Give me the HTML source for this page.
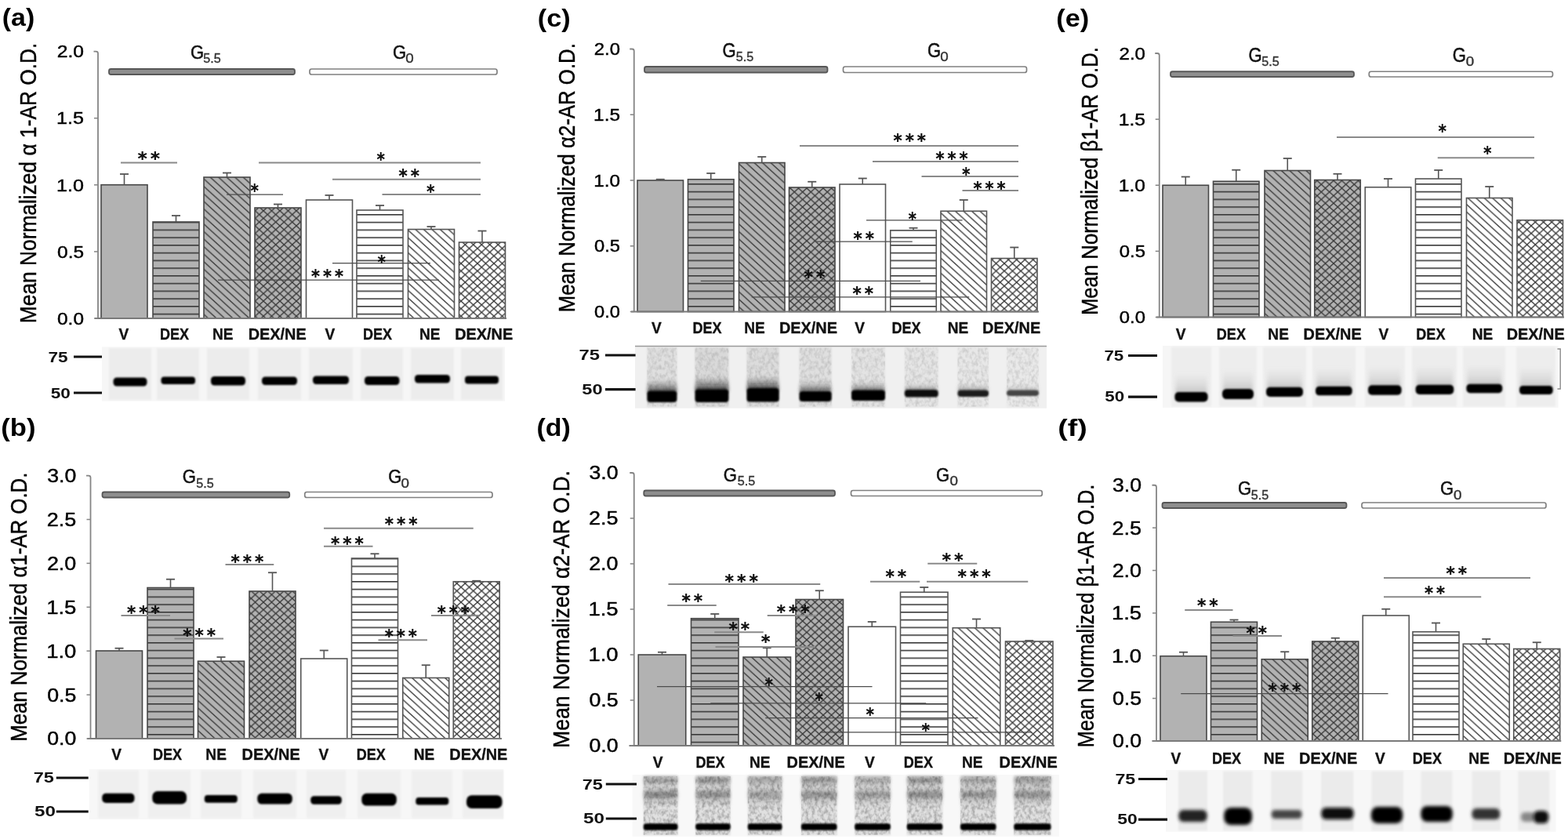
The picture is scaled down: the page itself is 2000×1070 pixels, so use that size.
<!DOCTYPE html>
<html><head><meta charset="utf-8"><style>
html,body{margin:0;padding:0;background:#fff;}
svg{display:block;}
</style></head><body>
<svg width="2000" height="1070" viewBox="0 0 2000 1070">
<defs><pattern id="hg" patternUnits="userSpaceOnUse" width="20" height="9.75"><rect width="20" height="9.75" fill="#b2b2b2"/><rect y="0" width="20" height="1.6" fill="#383838"/></pattern>
<pattern id="dg" patternUnits="userSpaceOnUse" width="10.5" height="9.6"><rect width="10.5" height="9.6" fill="#b2b2b2"/><line x1="-21" y1="-9.6" x2="10.5" y2="19.2" stroke="#383838" stroke-width="1.3"/><line x1="-10.5" y1="-9.6" x2="21" y2="19.2" stroke="#383838" stroke-width="1.3"/><line x1="0" y1="-9.6" x2="31.5" y2="19.2" stroke="#383838" stroke-width="1.3"/></pattern>
<pattern id="xg" patternUnits="userSpaceOnUse" width="10.5" height="9.6"><rect width="10.5" height="9.6" fill="#b2b2b2"/><line x1="-21" y1="-9.6" x2="10.5" y2="19.2" stroke="#383838" stroke-width="1.3"/><line x1="-10.5" y1="-9.6" x2="21" y2="19.2" stroke="#383838" stroke-width="1.3"/><line x1="0" y1="-9.6" x2="31.5" y2="19.2" stroke="#383838" stroke-width="1.3"/><line x1="10.5" y1="-9.6" x2="-21" y2="19.2" stroke="#383838" stroke-width="1.3"/><line x1="21" y1="-9.6" x2="-10.5" y2="19.2" stroke="#383838" stroke-width="1.3"/><line x1="31.5" y1="-9.6" x2="0" y2="19.2" stroke="#383838" stroke-width="1.3"/></pattern>
<pattern id="hw" patternUnits="userSpaceOnUse" width="20" height="9.75"><rect width="20" height="9.75" fill="#ffffff"/><rect y="0" width="20" height="1.6" fill="#383838"/></pattern>
<pattern id="dw" patternUnits="userSpaceOnUse" width="10.5" height="9.6"><rect width="10.5" height="9.6" fill="#ffffff"/><line x1="-21" y1="-9.6" x2="10.5" y2="19.2" stroke="#383838" stroke-width="1.3"/><line x1="-10.5" y1="-9.6" x2="21" y2="19.2" stroke="#383838" stroke-width="1.3"/><line x1="0" y1="-9.6" x2="31.5" y2="19.2" stroke="#383838" stroke-width="1.3"/></pattern>
<pattern id="xw" patternUnits="userSpaceOnUse" width="10.5" height="9.6"><rect width="10.5" height="9.6" fill="#ffffff"/><line x1="-21" y1="-9.6" x2="10.5" y2="19.2" stroke="#383838" stroke-width="1.3"/><line x1="-10.5" y1="-9.6" x2="21" y2="19.2" stroke="#383838" stroke-width="1.3"/><line x1="0" y1="-9.6" x2="31.5" y2="19.2" stroke="#383838" stroke-width="1.3"/><line x1="10.5" y1="-9.6" x2="-21" y2="19.2" stroke="#383838" stroke-width="1.3"/><line x1="21" y1="-9.6" x2="-10.5" y2="19.2" stroke="#383838" stroke-width="1.3"/><line x1="31.5" y1="-9.6" x2="0" y2="19.2" stroke="#383838" stroke-width="1.3"/></pattern>
<filter id="noise1" filterUnits="objectBoundingBox" x="0" y="0" width="1" height="1"><feTurbulence type="fractalNoise" baseFrequency="0.25 0.18" numOctaves="2" seed="7"/><feGaussianBlur stdDeviation="0.7"/><feColorMatrix type="matrix" values="0 0 0 0 0  0 0 0 0 0  0 0 0 0 0  1.1 0 0 0 -0.42"/><feComposite in2="SourceGraphic" operator="in"/></filter>
<filter id="blur1" x="-20%" y="-50%" width="140%" height="200%"><feGaussianBlur stdDeviation="1.1"/></filter>
<filter id="blur2" x="-20%" y="-50%" width="140%" height="200%"><feGaussianBlur stdDeviation="2.2"/></filter>
<filter id="blur3" x="-20%" y="-50%" width="140%" height="200%"><feGaussianBlur stdDeviation="3.5"/></filter>
<linearGradient id="sg1" x1="0" y1="0" x2="0" y2="1"><stop offset="0" stop-color="#222" stop-opacity="0"/><stop offset="0.55" stop-color="#222" stop-opacity="0.35"/><stop offset="1" stop-color="#222" stop-opacity="0.9"/></linearGradient>
<linearGradient id="sg2" x1="0" y1="0" x2="0" y2="1"><stop offset="0" stop-color="#111" stop-opacity="0"/><stop offset="0.55" stop-color="#111" stop-opacity="0.35"/><stop offset="1" stop-color="#111" stop-opacity="0.9"/></linearGradient>
<linearGradient id="sg3" x1="0" y1="0" x2="0" y2="1"><stop offset="0" stop-color="#111" stop-opacity="0"/><stop offset="0.55" stop-color="#111" stop-opacity="0.35"/><stop offset="1" stop-color="#111" stop-opacity="0.9"/></linearGradient>
<linearGradient id="sg4" x1="0" y1="0" x2="0" y2="1"><stop offset="0" stop-color="#333" stop-opacity="0"/><stop offset="0.55" stop-color="#333" stop-opacity="0.35"/><stop offset="1" stop-color="#333" stop-opacity="0.9"/></linearGradient>
<linearGradient id="sg5" x1="0" y1="0" x2="0" y2="1"><stop offset="0" stop-color="#444" stop-opacity="0"/><stop offset="0.55" stop-color="#444" stop-opacity="0.35"/><stop offset="1" stop-color="#444" stop-opacity="0.9"/></linearGradient>
<linearGradient id="sg6" x1="0" y1="0" x2="0" y2="1"><stop offset="0" stop-color="#777" stop-opacity="0"/><stop offset="0.55" stop-color="#777" stop-opacity="0.35"/><stop offset="1" stop-color="#777" stop-opacity="0.9"/></linearGradient>
<linearGradient id="sg7" x1="0" y1="0" x2="0" y2="1"><stop offset="0" stop-color="#888" stop-opacity="0"/><stop offset="0.55" stop-color="#888" stop-opacity="0.35"/><stop offset="1" stop-color="#888" stop-opacity="0.9"/></linearGradient>
<linearGradient id="sg8" x1="0" y1="0" x2="0" y2="1"><stop offset="0" stop-color="#aaa" stop-opacity="0"/><stop offset="0.55" stop-color="#aaa" stop-opacity="0.35"/><stop offset="1" stop-color="#aaa" stop-opacity="0.9"/></linearGradient>
<linearGradient id="sg9" x1="0" y1="0" x2="0" y2="1"><stop offset="0" stop-color="#bdbdbd" stop-opacity="0"/><stop offset="0.55" stop-color="#bdbdbd" stop-opacity="0.35"/><stop offset="1" stop-color="#bdbdbd" stop-opacity="0.9"/></linearGradient>
<linearGradient id="sg10" x1="0" y1="0" x2="0" y2="1"><stop offset="0" stop-color="#bdbdbd" stop-opacity="0"/><stop offset="0.55" stop-color="#bdbdbd" stop-opacity="0.35"/><stop offset="1" stop-color="#bdbdbd" stop-opacity="0.9"/></linearGradient>
<linearGradient id="sg11" x1="0" y1="0" x2="0" y2="1"><stop offset="0" stop-color="#bdbdbd" stop-opacity="0"/><stop offset="0.55" stop-color="#bdbdbd" stop-opacity="0.35"/><stop offset="1" stop-color="#bdbdbd" stop-opacity="0.9"/></linearGradient>
<linearGradient id="sg12" x1="0" y1="0" x2="0" y2="1"><stop offset="0" stop-color="#bdbdbd" stop-opacity="0"/><stop offset="0.55" stop-color="#bdbdbd" stop-opacity="0.35"/><stop offset="1" stop-color="#bdbdbd" stop-opacity="0.9"/></linearGradient>
<linearGradient id="sg13" x1="0" y1="0" x2="0" y2="1"><stop offset="0" stop-color="#bdbdbd" stop-opacity="0"/><stop offset="0.55" stop-color="#bdbdbd" stop-opacity="0.35"/><stop offset="1" stop-color="#bdbdbd" stop-opacity="0.9"/></linearGradient>
<linearGradient id="sg14" x1="0" y1="0" x2="0" y2="1"><stop offset="0" stop-color="#bdbdbd" stop-opacity="0"/><stop offset="0.55" stop-color="#bdbdbd" stop-opacity="0.35"/><stop offset="1" stop-color="#bdbdbd" stop-opacity="0.9"/></linearGradient>
<linearGradient id="sg15" x1="0" y1="0" x2="0" y2="1"><stop offset="0" stop-color="#bdbdbd" stop-opacity="0"/><stop offset="0.55" stop-color="#bdbdbd" stop-opacity="0.35"/><stop offset="1" stop-color="#bdbdbd" stop-opacity="0.9"/></linearGradient>
<linearGradient id="sg16" x1="0" y1="0" x2="0" y2="1"><stop offset="0" stop-color="#bdbdbd" stop-opacity="0"/><stop offset="0.55" stop-color="#bdbdbd" stop-opacity="0.35"/><stop offset="1" stop-color="#bdbdbd" stop-opacity="0.9"/></linearGradient></defs>
<rect width="2000" height="1070" fill="#fff"/>
<rect x="129" y="235.7" width="59" height="170.3" fill="#b2b2b2" stroke="#474747" stroke-width="1.6"/>
<line x1="158.5" y1="235.7" x2="158.5" y2="222" stroke="#555" stroke-width="1.6"/>
<line x1="153" y1="222" x2="164" y2="222" stroke="#555" stroke-width="1.8"/>
<rect x="195" y="283" width="59" height="123" fill="url(#hg)" stroke="#474747" stroke-width="1.6"/>
<line x1="224.5" y1="283" x2="224.5" y2="275" stroke="#555" stroke-width="1.6"/>
<line x1="219" y1="275" x2="230" y2="275" stroke="#555" stroke-width="1.8"/>
<rect x="260" y="226" width="59" height="180" fill="url(#dg)" stroke="#474747" stroke-width="1.6"/>
<line x1="289.5" y1="226" x2="289.5" y2="220.5" stroke="#555" stroke-width="1.6"/>
<line x1="284" y1="220.5" x2="295" y2="220.5" stroke="#555" stroke-width="1.8"/>
<rect x="325" y="265" width="59" height="141" fill="url(#xg)" stroke="#474747" stroke-width="1.6"/>
<line x1="354.5" y1="265" x2="354.5" y2="260.5" stroke="#555" stroke-width="1.6"/>
<line x1="349" y1="260.5" x2="360" y2="260.5" stroke="#555" stroke-width="1.8"/>
<rect x="390.5" y="255" width="59" height="151" fill="#ffffff" stroke="#555555" stroke-width="1.6"/>
<line x1="420" y1="255" x2="420" y2="249" stroke="#555" stroke-width="1.6"/>
<line x1="414.5" y1="249" x2="425.5" y2="249" stroke="#555" stroke-width="1.8"/>
<rect x="455" y="268" width="59" height="138" fill="url(#hw)" stroke="#555555" stroke-width="1.6"/>
<line x1="484.5" y1="268" x2="484.5" y2="262" stroke="#555" stroke-width="1.6"/>
<line x1="479" y1="262" x2="490" y2="262" stroke="#555" stroke-width="1.8"/>
<rect x="520.5" y="292.5" width="59" height="113.5" fill="url(#dw)" stroke="#555555" stroke-width="1.6"/>
<line x1="550" y1="292.5" x2="550" y2="289" stroke="#555" stroke-width="1.6"/>
<line x1="544.5" y1="289" x2="555.5" y2="289" stroke="#555" stroke-width="1.8"/>
<rect x="585.5" y="309" width="59" height="97" fill="url(#xw)" stroke="#555555" stroke-width="1.6"/>
<line x1="615" y1="309" x2="615" y2="294.5" stroke="#555" stroke-width="1.6"/>
<line x1="609.5" y1="294.5" x2="620.5" y2="294.5" stroke="#555" stroke-width="1.8"/>
<path d="M119.5 65.6 L122.5 65.6 Q125 65.6 125 68.1 L125 406" fill="none" stroke="#858585" stroke-width="1.8"/>
<line x1="121" y1="406" x2="646" y2="406" stroke="#7a7a7a" stroke-width="1.8"/>
<line x1="120" y1="406" x2="125" y2="406" stroke="#858585" stroke-width="1.5"/>
<text x="73.05" y="413.71" font-family='"Liberation Sans", Arial, sans-serif' font-size="22.4" font-weight="normal" fill="#000" textLength="33.91" lengthAdjust="spacingAndGlyphs" stroke="#000" stroke-width="0.45">0.0</text>
<line x1="120" y1="320.9" x2="125" y2="320.9" stroke="#858585" stroke-width="1.5"/>
<text x="73.05" y="328.61" font-family='"Liberation Sans", Arial, sans-serif' font-size="22.4" font-weight="normal" fill="#000" textLength="33.98" lengthAdjust="spacingAndGlyphs" stroke="#000" stroke-width="0.45">0.5</text>
<line x1="120" y1="235.8" x2="125" y2="235.8" stroke="#858585" stroke-width="1.5"/>
<text x="72.09" y="243.51" font-family='"Liberation Sans", Arial, sans-serif' font-size="22.4" font-weight="normal" fill="#000" textLength="34.89" lengthAdjust="spacingAndGlyphs" stroke="#000" stroke-width="0.45">1.0</text>
<line x1="120" y1="150.7" x2="125" y2="150.7" stroke="#858585" stroke-width="1.5"/>
<text x="72.08" y="158.3" font-family='"Liberation Sans", Arial, sans-serif' font-size="22.4" font-weight="normal" fill="#000" textLength="34.97" lengthAdjust="spacingAndGlyphs" stroke="#000" stroke-width="0.45">1.5</text>
<text x="72.76" y="73.31" font-family='"Liberation Sans", Arial, sans-serif' font-size="22.4" font-weight="normal" fill="#000" textLength="34.2" lengthAdjust="spacingAndGlyphs" stroke="#000" stroke-width="0.45">2.0</text>
<rect x="139" y="88" width="237" height="7" fill="#8e8e8e" stroke="#575757" stroke-width="1.8" rx="2.5"/>
<rect x="395" y="88" width="239" height="7" fill="#ffffff" stroke="#808080" stroke-width="1.7" rx="2.5"/>
<text x="242.89" y="75.16" font-family='"Liberation Sans", Arial, sans-serif' font-size="23.73" font-weight="normal" fill="#111" textLength="17.16" lengthAdjust="spacingAndGlyphs" stroke="#111" stroke-width="0.5">G</text>
<text x="259.15" y="80.4" font-family='"Liberation Sans", Arial, sans-serif' font-size="16.33" font-weight="normal" fill="#333" textLength="22.53" lengthAdjust="spacingAndGlyphs" stroke="#333" stroke-width="0.4">5.5</text>
<text x="500.89" y="75.16" font-family='"Liberation Sans", Arial, sans-serif' font-size="23.73" font-weight="normal" fill="#111" textLength="17.16" lengthAdjust="spacingAndGlyphs" stroke="#111" stroke-width="0.5">G</text>
<text x="517.26" y="80.4" font-family='"Liberation Sans", Arial, sans-serif' font-size="16.33" font-weight="normal" fill="#333" textLength="10.47" lengthAdjust="spacingAndGlyphs" stroke="#333" stroke-width="0.4">0</text>
<line x1="154" y1="207.5" x2="226" y2="207.5" stroke="#8a8a8a" stroke-width="2"/>
<text x="173.69" y="204.49" font-family='"DejaVu Sans", sans-serif' font-size="17.5" font-weight="bold" fill="#111" textLength="32.62" lengthAdjust="spacingAndGlyphs">∗∗</text>
<line x1="330" y1="207.5" x2="613" y2="207.5" stroke="#8a8a8a" stroke-width="2"/>
<text x="479.02" y="205.49" font-family='"DejaVu Sans", sans-serif' font-size="17.5" font-weight="bold" fill="#111" textLength="13.95" lengthAdjust="spacingAndGlyphs">∗</text>
<line x1="424" y1="228.7" x2="613" y2="228.7" stroke="#8a8a8a" stroke-width="2"/>
<text x="506.86" y="225.99" font-family='"DejaVu Sans", sans-serif' font-size="17.5" font-weight="bold" fill="#111" textLength="30.29" lengthAdjust="spacingAndGlyphs">∗∗</text>
<line x1="487.5" y1="248" x2="613" y2="248" stroke="#8a8a8a" stroke-width="2"/>
<text x="542.52" y="246.49" font-family='"DejaVu Sans", sans-serif' font-size="17.5" font-weight="bold" fill="#111" textLength="13.95" lengthAdjust="spacingAndGlyphs">∗</text>
<line x1="289" y1="248" x2="361" y2="248" stroke="#4d4d4d" stroke-width="1.25"/>
<text x="318.02" y="244.99" font-family='"DejaVu Sans", sans-serif' font-size="17.5" font-weight="bold" fill="#111" textLength="13.95" lengthAdjust="spacingAndGlyphs">∗</text>
<line x1="278" y1="357" x2="560" y2="357" stroke="#4d4d4d" stroke-width="1.25"/>
<text x="395.39" y="354.24" font-family='"DejaVu Sans", sans-serif' font-size="17.5" font-weight="bold" fill="#111" textLength="44.72" lengthAdjust="spacingAndGlyphs">∗∗∗</text>
<line x1="424" y1="335.5" x2="549" y2="335.5" stroke="#4d4d4d" stroke-width="1.25"/>
<text x="480.02" y="335.99" font-family='"DejaVu Sans", sans-serif' font-size="17.5" font-weight="bold" fill="#111" textLength="13.95" lengthAdjust="spacingAndGlyphs">∗</text>
<text x="151.62" y="432.74" font-family='"Liberation Sans", Arial, sans-serif' font-size="19.6" font-weight="bold" fill="#111" textLength="12.76" lengthAdjust="spacingAndGlyphs" stroke="#111" stroke-width="0.35">V</text>
<text x="203.92" y="432.74" font-family='"Liberation Sans", Arial, sans-serif' font-size="19.6" font-weight="bold" fill="#111" textLength="37.12" lengthAdjust="spacingAndGlyphs" stroke="#111" stroke-width="0.35">DEX</text>
<text x="270.97" y="432.74" font-family='"Liberation Sans", Arial, sans-serif' font-size="19.6" font-weight="bold" fill="#111" textLength="26.52" lengthAdjust="spacingAndGlyphs" stroke="#111" stroke-width="0.35">NE</text>
<text x="316.67" y="432.74" font-family='"Liberation Sans", Arial, sans-serif' font-size="19.6" font-weight="bold" fill="#111" textLength="74.11" lengthAdjust="spacingAndGlyphs" stroke="#111" stroke-width="0.35">DEX/NE</text>
<text x="414.62" y="432.74" font-family='"Liberation Sans", Arial, sans-serif' font-size="19.6" font-weight="bold" fill="#111" textLength="12.76" lengthAdjust="spacingAndGlyphs" stroke="#111" stroke-width="0.35">V</text>
<text x="462.92" y="432.74" font-family='"Liberation Sans", Arial, sans-serif' font-size="19.6" font-weight="bold" fill="#111" textLength="37.12" lengthAdjust="spacingAndGlyphs" stroke="#111" stroke-width="0.35">DEX</text>
<text x="534.97" y="432.74" font-family='"Liberation Sans", Arial, sans-serif' font-size="19.6" font-weight="bold" fill="#111" textLength="26.52" lengthAdjust="spacingAndGlyphs" stroke="#111" stroke-width="0.35">NE</text>
<text x="580.17" y="432.74" font-family='"Liberation Sans", Arial, sans-serif' font-size="19.6" font-weight="bold" fill="#111" textLength="74.11" lengthAdjust="spacingAndGlyphs" stroke="#111" stroke-width="0.35">DEX/NE</text>
<text x="2.81" y="33.34" font-family='"Liberation Sans", Arial, sans-serif' font-size="32.19" font-weight="bold" fill="#000" textLength="41.37" lengthAdjust="spacingAndGlyphs">(a)</text>
<text transform="translate(46.25,410) rotate(-90)" x="-2.16" y="0" font-family='"Liberation Sans", Arial, sans-serif' font-size="29" font-weight="normal" fill="#000" stroke="#000" stroke-width="0.45" textLength="357.56" lengthAdjust="spacingAndGlyphs">Mean Normalized α 1-AR O.D.</text>
<rect x="130" y="442.5" width="514" height="69" fill="#f6f6f6" stroke="none" stroke-width="0"/>
<rect x="139" y="444" width="54" height="66" fill="#ececec" filter="url(#blur1)"/>
<rect x="200" y="444" width="54" height="66" fill="#ececec" filter="url(#blur1)"/>
<rect x="264" y="444" width="54" height="66" fill="#ececec" filter="url(#blur1)"/>
<rect x="329" y="444" width="55" height="66" fill="#ececec" filter="url(#blur1)"/>
<rect x="394" y="444" width="56" height="66" fill="#ececec" filter="url(#blur1)"/>
<rect x="460" y="444" width="54" height="66" fill="#ececec" filter="url(#blur1)"/>
<rect x="524" y="444" width="55" height="66" fill="#ececec" filter="url(#blur1)"/>
<rect x="588" y="444" width="53" height="66" fill="#ececec" filter="url(#blur1)"/>
<rect x="144.5" y="481.5" width="43" height="11" rx="4.4" fill="#000" filter="url(#blur1)"/>
<rect x="205.5" y="480.5" width="43.5" height="9.5" rx="3.8" fill="#000" filter="url(#blur1)"/>
<rect x="269" y="480" width="44" height="11.5" rx="4.6" fill="#000" filter="url(#blur1)"/>
<rect x="334" y="480.5" width="45" height="10.5" rx="4.2" fill="#000" filter="url(#blur1)"/>
<rect x="399" y="479.5" width="46" height="10.5" rx="4.2" fill="#000" filter="url(#blur1)"/>
<rect x="465" y="480" width="44.5" height="11" rx="4.4" fill="#000" filter="url(#blur1)"/>
<rect x="529" y="478" width="45" height="10.5" rx="4.2" fill="#000" filter="url(#blur1)"/>
<rect x="593" y="479.5" width="43" height="10" rx="4" fill="#000" filter="url(#blur1)"/>
<text x="61.53" y="462.19" font-family='"Liberation Sans", Arial, sans-serif' font-size="18" font-weight="bold" fill="#111" textLength="25.1" lengthAdjust="spacingAndGlyphs">75</text>
<line x1="94" y1="455" x2="130" y2="455" stroke="#111" stroke-width="3.2"/>
<text x="64.81" y="508.19" font-family='"Liberation Sans", Arial, sans-serif' font-size="18" font-weight="bold" fill="#111" textLength="25.12" lengthAdjust="spacingAndGlyphs">50</text>
<line x1="94" y1="501" x2="130" y2="501" stroke="#111" stroke-width="3.2"/>
<rect x="813" y="230" width="58.5" height="167.5" fill="#b2b2b2" stroke="#474747" stroke-width="1.6"/>
<line x1="842.25" y1="230" x2="842.25" y2="228.75" stroke="#555" stroke-width="1.6"/>
<line x1="836.75" y1="228.75" x2="847.75" y2="228.75" stroke="#555" stroke-width="1.8"/>
<rect x="877.5" y="228.75" width="58.5" height="168.75" fill="url(#hg)" stroke="#474747" stroke-width="1.6"/>
<line x1="906.75" y1="228.75" x2="906.75" y2="221" stroke="#555" stroke-width="1.6"/>
<line x1="901.25" y1="221" x2="912.25" y2="221" stroke="#555" stroke-width="1.8"/>
<rect x="942.5" y="207.5" width="58.5" height="190" fill="url(#dg)" stroke="#474747" stroke-width="1.6"/>
<line x1="971.75" y1="207.5" x2="971.75" y2="200" stroke="#555" stroke-width="1.6"/>
<line x1="966.25" y1="200" x2="977.25" y2="200" stroke="#555" stroke-width="1.8"/>
<rect x="1006.5" y="239" width="58.5" height="158.5" fill="url(#xg)" stroke="#474747" stroke-width="1.6"/>
<line x1="1035.75" y1="239" x2="1035.75" y2="231.75" stroke="#555" stroke-width="1.6"/>
<line x1="1030.25" y1="231.75" x2="1041.25" y2="231.75" stroke="#555" stroke-width="1.8"/>
<rect x="1071" y="235" width="58.5" height="162.5" fill="#ffffff" stroke="#555555" stroke-width="1.6"/>
<line x1="1100.25" y1="235" x2="1100.25" y2="227.5" stroke="#555" stroke-width="1.6"/>
<line x1="1094.75" y1="227.5" x2="1105.75" y2="227.5" stroke="#555" stroke-width="1.8"/>
<rect x="1135.75" y="293.75" width="58.5" height="103.75" fill="url(#hw)" stroke="#555555" stroke-width="1.6"/>
<line x1="1165" y1="293.75" x2="1165" y2="290.75" stroke="#555" stroke-width="1.6"/>
<line x1="1159.5" y1="290.75" x2="1170.5" y2="290.75" stroke="#555" stroke-width="1.8"/>
<rect x="1200" y="269.25" width="58.5" height="128.25" fill="url(#dw)" stroke="#555555" stroke-width="1.6"/>
<line x1="1229.25" y1="269.25" x2="1229.25" y2="255" stroke="#555" stroke-width="1.6"/>
<line x1="1223.75" y1="255" x2="1234.75" y2="255" stroke="#555" stroke-width="1.8"/>
<rect x="1264.5" y="329.5" width="58.5" height="68" fill="url(#xw)" stroke="#555555" stroke-width="1.6"/>
<line x1="1293.75" y1="329.5" x2="1293.75" y2="315.5" stroke="#555" stroke-width="1.6"/>
<line x1="1288.25" y1="315.5" x2="1299.25" y2="315.5" stroke="#555" stroke-width="1.8"/>
<path d="M803.25 62.5 L806.25 62.5 Q808.75 62.5 808.75 65 L808.75 397.5" fill="none" stroke="#858585" stroke-width="1.8"/>
<line x1="805" y1="397.5" x2="1325" y2="397.5" stroke="#7a7a7a" stroke-width="1.8"/>
<line x1="803.75" y1="397.5" x2="808.75" y2="397.5" stroke="#858585" stroke-width="1.5"/>
<text x="758.08" y="405.21" font-family='"Liberation Sans", Arial, sans-serif' font-size="22.4" font-weight="normal" fill="#000" textLength="32.85" lengthAdjust="spacingAndGlyphs" stroke="#000" stroke-width="0.45">0.0</text>
<line x1="803.75" y1="313.75" x2="808.75" y2="313.75" stroke="#858585" stroke-width="1.5"/>
<text x="758.07" y="321.46" font-family='"Liberation Sans", Arial, sans-serif' font-size="22.4" font-weight="normal" fill="#000" textLength="32.92" lengthAdjust="spacingAndGlyphs" stroke="#000" stroke-width="0.45">0.5</text>
<line x1="803.75" y1="230" x2="808.75" y2="230" stroke="#858585" stroke-width="1.5"/>
<text x="757.15" y="237.71" font-family='"Liberation Sans", Arial, sans-serif' font-size="22.4" font-weight="normal" fill="#000" textLength="33.8" lengthAdjust="spacingAndGlyphs" stroke="#000" stroke-width="0.45">1.0</text>
<line x1="803.75" y1="146.25" x2="808.75" y2="146.25" stroke="#858585" stroke-width="1.5"/>
<text x="757.14" y="153.85" font-family='"Liberation Sans", Arial, sans-serif' font-size="22.4" font-weight="normal" fill="#000" textLength="33.88" lengthAdjust="spacingAndGlyphs" stroke="#000" stroke-width="0.45">1.5</text>
<text x="757.8" y="70.21" font-family='"Liberation Sans", Arial, sans-serif' font-size="22.4" font-weight="normal" fill="#000" textLength="33.13" lengthAdjust="spacingAndGlyphs" stroke="#000" stroke-width="0.45">2.0</text>
<rect x="822" y="85" width="233.5" height="7.5" fill="#8e8e8e" stroke="#575757" stroke-width="1.8" rx="2.5"/>
<rect x="1075.5" y="85" width="234" height="7.5" fill="#ffffff" stroke="#808080" stroke-width="1.7" rx="2.5"/>
<text x="921.39" y="72.65" font-family='"Liberation Sans", Arial, sans-serif' font-size="25.14" font-weight="normal" fill="#111" textLength="17.16" lengthAdjust="spacingAndGlyphs" stroke="#111" stroke-width="0.5">G</text>
<text x="938.65" y="77.9" font-family='"Liberation Sans", Arial, sans-serif' font-size="16.33" font-weight="normal" fill="#333" textLength="22.53" lengthAdjust="spacingAndGlyphs" stroke="#333" stroke-width="0.4">5.5</text>
<text x="1182.89" y="72.65" font-family='"Liberation Sans", Arial, sans-serif' font-size="25.14" font-weight="normal" fill="#111" textLength="17.16" lengthAdjust="spacingAndGlyphs" stroke="#111" stroke-width="0.5">G</text>
<text x="1199.26" y="77.9" font-family='"Liberation Sans", Arial, sans-serif' font-size="16.33" font-weight="normal" fill="#333" textLength="10.47" lengthAdjust="spacingAndGlyphs" stroke="#333" stroke-width="0.4">0</text>
<line x1="1020" y1="186" x2="1299" y2="186" stroke="#8a8a8a" stroke-width="2"/>
<text x="1137.86" y="181.49" font-family='"DejaVu Sans", sans-serif' font-size="17.5" font-weight="bold" fill="#111" textLength="45.27" lengthAdjust="spacingAndGlyphs">∗∗∗</text>
<line x1="1113" y1="206" x2="1299" y2="206" stroke="#8a8a8a" stroke-width="2"/>
<text x="1191.89" y="204.49" font-family='"DejaVu Sans", sans-serif' font-size="17.5" font-weight="bold" fill="#111" textLength="44.72" lengthAdjust="spacingAndGlyphs">∗∗∗</text>
<line x1="1175.5" y1="225" x2="1299" y2="225" stroke="#8a8a8a" stroke-width="2"/>
<text x="1225.52" y="224.49" font-family='"DejaVu Sans", sans-serif' font-size="17.5" font-weight="bold" fill="#111" textLength="13.95" lengthAdjust="spacingAndGlyphs">∗</text>
<line x1="1227.5" y1="243" x2="1299" y2="243" stroke="#8a8a8a" stroke-width="2"/>
<text x="1239.89" y="242.49" font-family='"DejaVu Sans", sans-serif' font-size="17.5" font-weight="bold" fill="#111" textLength="44.72" lengthAdjust="spacingAndGlyphs">∗∗∗</text>
<line x1="1105" y1="280.75" x2="1227.5" y2="280.75" stroke="#4d4d4d" stroke-width="1.25"/>
<text x="1157.02" y="280.99" font-family='"DejaVu Sans", sans-serif' font-size="17.5" font-weight="bold" fill="#111" textLength="13.95" lengthAdjust="spacingAndGlyphs">∗</text>
<line x1="1040" y1="308" x2="1163.75" y2="308" stroke="#4d4d4d" stroke-width="1.25"/>
<text x="1086.86" y="306.24" font-family='"DejaVu Sans", sans-serif' font-size="17.5" font-weight="bold" fill="#111" textLength="30.29" lengthAdjust="spacingAndGlyphs">∗∗</text>
<line x1="893.75" y1="358.25" x2="1174" y2="358.25" stroke="#4d4d4d" stroke-width="1.25"/>
<text x="1023.81" y="355.49" font-family='"DejaVu Sans", sans-serif' font-size="17.5" font-weight="bold" fill="#111" textLength="30.87" lengthAdjust="spacingAndGlyphs">∗∗</text>
<line x1="958.75" y1="378.75" x2="1236.25" y2="378.75" stroke="#4d4d4d" stroke-width="1.25"/>
<text x="1085.86" y="376.49" font-family='"DejaVu Sans", sans-serif' font-size="17.5" font-weight="bold" fill="#111" textLength="30.29" lengthAdjust="spacingAndGlyphs">∗∗</text>
<text x="831.12" y="424.99" font-family='"Liberation Sans", Arial, sans-serif' font-size="19.6" font-weight="bold" fill="#111" textLength="12.76" lengthAdjust="spacingAndGlyphs" stroke="#111" stroke-width="0.35">V</text>
<text x="883.42" y="424.99" font-family='"Liberation Sans", Arial, sans-serif' font-size="19.6" font-weight="bold" fill="#111" textLength="37.12" lengthAdjust="spacingAndGlyphs" stroke="#111" stroke-width="0.35">DEX</text>
<text x="949.22" y="424.99" font-family='"Liberation Sans", Arial, sans-serif' font-size="19.6" font-weight="bold" fill="#111" textLength="26.52" lengthAdjust="spacingAndGlyphs" stroke="#111" stroke-width="0.35">NE</text>
<text x="993.92" y="424.99" font-family='"Liberation Sans", Arial, sans-serif' font-size="19.6" font-weight="bold" fill="#111" textLength="74.11" lengthAdjust="spacingAndGlyphs" stroke="#111" stroke-width="0.35">DEX/NE</text>
<text x="1090.37" y="424.99" font-family='"Liberation Sans", Arial, sans-serif' font-size="19.6" font-weight="bold" fill="#111" textLength="12.76" lengthAdjust="spacingAndGlyphs" stroke="#111" stroke-width="0.35">V</text>
<text x="1137.52" y="424.99" font-family='"Liberation Sans", Arial, sans-serif' font-size="19.6" font-weight="bold" fill="#111" textLength="37.12" lengthAdjust="spacingAndGlyphs" stroke="#111" stroke-width="0.35">DEX</text>
<text x="1208.72" y="424.99" font-family='"Liberation Sans", Arial, sans-serif' font-size="19.6" font-weight="bold" fill="#111" textLength="26.52" lengthAdjust="spacingAndGlyphs" stroke="#111" stroke-width="0.35">NE</text>
<text x="1253.07" y="424.99" font-family='"Liberation Sans", Arial, sans-serif' font-size="19.6" font-weight="bold" fill="#111" textLength="74.11" lengthAdjust="spacingAndGlyphs" stroke="#111" stroke-width="0.35">DEX/NE</text>
<text x="685.79" y="33.56" font-family='"Liberation Sans", Arial, sans-serif' font-size="31.12" font-weight="bold" fill="#000" textLength="41.92" lengthAdjust="spacingAndGlyphs">(c)</text>
<text transform="translate(733,396.25) rotate(-90)" x="-2.12" y="0" font-family='"Liberation Sans", Arial, sans-serif' font-size="29.5" font-weight="normal" fill="#000" stroke="#000" stroke-width="0.45" textLength="343.22" lengthAdjust="spacingAndGlyphs">Mean Normalized α2-AR O.D.</text>
<rect x="810" y="441.5" width="525" height="79.2" fill="#f0f0f0" stroke="none" stroke-width="0"/>
<rect x="825.4" y="443" width="38" height="76.2" fill="#dfdfdf" filter="url(#blur1)"/>
<rect x="886.5" y="443" width="42.9" height="76.2" fill="#d9d9d9" filter="url(#blur1)"/>
<rect x="952.5" y="443" width="41.2" height="76.2" fill="#dcdcdc" filter="url(#blur1)"/>
<rect x="1019.5" y="443" width="41.2" height="76.2" fill="#dfdfdf" filter="url(#blur1)"/>
<rect x="1086" y="443" width="43" height="76.2" fill="#e3e3e3" filter="url(#blur1)"/>
<rect x="1153.8" y="443" width="42.9" height="76.2" fill="#e5e5e5" filter="url(#blur1)"/>
<rect x="1221.5" y="443" width="39.5" height="76.2" fill="#e7e7e7" filter="url(#blur1)"/>
<rect x="1284" y="443" width="41" height="76.2" fill="#e9e9e9" filter="url(#blur1)"/>
<line x1="810" y1="441.5" x2="1335" y2="441.5" stroke="#9a9a9a" stroke-width="1.5"/>
<rect x="825.4" y="443.5" width="38" height="75.2" fill="#000" filter="url(#noise1)" opacity="0.25"/>
<rect x="886.5" y="443.5" width="42.9" height="75.2" fill="#000" filter="url(#noise1)" opacity="0.25"/>
<rect x="952.5" y="443.5" width="41.2" height="75.2" fill="#000" filter="url(#noise1)" opacity="0.25"/>
<rect x="1019.5" y="443.5" width="41.2" height="75.2" fill="#000" filter="url(#noise1)" opacity="0.25"/>
<rect x="1086" y="443.5" width="43" height="75.2" fill="#000" filter="url(#noise1)" opacity="0.25"/>
<rect x="1153.8" y="443.5" width="42.9" height="75.2" fill="#000" filter="url(#noise1)" opacity="0.25"/>
<rect x="1221.5" y="443.5" width="39.5" height="75.2" fill="#000" filter="url(#noise1)" opacity="0.25"/>
<rect x="1284" y="443.5" width="41" height="75.2" fill="#000" filter="url(#noise1)" opacity="0.25"/>
<rect x="826" y="484" width="37" height="17" fill="url(#sg1)" filter="url(#blur2)"/>
<rect x="887" y="481" width="42" height="18" fill="url(#sg2)" filter="url(#blur2)"/>
<rect x="953" y="480" width="40" height="18" fill="url(#sg3)" filter="url(#blur2)"/>
<rect x="1020" y="486" width="40" height="15" fill="url(#sg4)" filter="url(#blur2)"/>
<rect x="1087" y="487" width="41" height="13" fill="url(#sg5)" filter="url(#blur2)"/>
<rect x="1155" y="489" width="40" height="10" fill="url(#sg6)" filter="url(#blur2)"/>
<rect x="1222" y="490" width="38" height="9" fill="url(#sg7)" filter="url(#blur2)"/>
<rect x="1285" y="491" width="39" height="8" fill="url(#sg8)" filter="url(#blur2)"/>
<rect x="825.4" y="498.5" width="38" height="14.5" rx="4" fill="#000" filter="url(#blur1)"/>
<rect x="886.5" y="496.5" width="42.9" height="16.5" rx="4" fill="#000" filter="url(#blur1)"/>
<rect x="952.5" y="495" width="41.2" height="17.5" rx="4" fill="#000" filter="url(#blur1)"/>
<rect x="1019.5" y="499" width="41.2" height="13" rx="4" fill="#000" filter="url(#blur1)"/>
<rect x="1086" y="497.5" width="43" height="13.5" rx="4" fill="#000" filter="url(#blur1)"/>
<rect x="1153.8" y="497" width="42.9" height="9.5" rx="4" fill="#111" filter="url(#blur1)"/>
<rect x="1221.5" y="497.5" width="39.5" height="8.5" rx="4" fill="#1a1a1a" filter="url(#blur1)"/>
<rect x="1284" y="497.5" width="41" height="7.5" rx="4" fill="#444" filter="url(#blur1)"/>
<text x="738.58" y="459.19" font-family='"Liberation Sans", Arial, sans-serif' font-size="18" font-weight="bold" fill="#111" textLength="26.49" lengthAdjust="spacingAndGlyphs">75</text>
<line x1="772" y1="453" x2="810.6" y2="453" stroke="#111" stroke-width="3.2"/>
<text x="742.27" y="502.79" font-family='"Liberation Sans", Arial, sans-serif' font-size="18" font-weight="bold" fill="#111" textLength="26.3" lengthAdjust="spacingAndGlyphs">50</text>
<line x1="772" y1="496.6" x2="810.6" y2="496.6" stroke="#111" stroke-width="3.2"/>
<rect x="1483" y="236.25" width="58.5" height="168.25" fill="#b2b2b2" stroke="#474747" stroke-width="1.6"/>
<line x1="1512.25" y1="236.25" x2="1512.25" y2="225.5" stroke="#555" stroke-width="1.6"/>
<line x1="1506.75" y1="225.5" x2="1517.75" y2="225.5" stroke="#555" stroke-width="1.8"/>
<rect x="1547.5" y="231.25" width="58.5" height="173.25" fill="url(#hg)" stroke="#474747" stroke-width="1.6"/>
<line x1="1576.75" y1="231.25" x2="1576.75" y2="216.75" stroke="#555" stroke-width="1.6"/>
<line x1="1571.25" y1="216.75" x2="1582.25" y2="216.75" stroke="#555" stroke-width="1.8"/>
<rect x="1613" y="217.5" width="58.5" height="187" fill="url(#dg)" stroke="#474747" stroke-width="1.6"/>
<line x1="1642.25" y1="217.5" x2="1642.25" y2="202" stroke="#555" stroke-width="1.6"/>
<line x1="1636.75" y1="202" x2="1647.75" y2="202" stroke="#555" stroke-width="1.8"/>
<rect x="1676.75" y="229.5" width="58.5" height="175" fill="url(#xg)" stroke="#474747" stroke-width="1.6"/>
<line x1="1706" y1="229.5" x2="1706" y2="221.75" stroke="#555" stroke-width="1.6"/>
<line x1="1700.5" y1="221.75" x2="1711.5" y2="221.75" stroke="#555" stroke-width="1.8"/>
<rect x="1741.25" y="238.75" width="58.5" height="165.75" fill="#ffffff" stroke="#555555" stroke-width="1.6"/>
<line x1="1770.5" y1="238.75" x2="1770.5" y2="228" stroke="#555" stroke-width="1.6"/>
<line x1="1765" y1="228" x2="1776" y2="228" stroke="#555" stroke-width="1.8"/>
<rect x="1805.5" y="228" width="58.5" height="176.5" fill="url(#hw)" stroke="#555555" stroke-width="1.6"/>
<line x1="1834.75" y1="228" x2="1834.75" y2="217" stroke="#555" stroke-width="1.6"/>
<line x1="1829.25" y1="217" x2="1840.25" y2="217" stroke="#555" stroke-width="1.8"/>
<rect x="1870.5" y="252.5" width="58.5" height="152" fill="url(#dw)" stroke="#555555" stroke-width="1.6"/>
<line x1="1899.75" y1="252.5" x2="1899.75" y2="238" stroke="#555" stroke-width="1.6"/>
<line x1="1894.25" y1="238" x2="1905.25" y2="238" stroke="#555" stroke-width="1.8"/>
<rect x="1935" y="280.75" width="58.5" height="123.75" fill="url(#xw)" stroke="#555555" stroke-width="1.6"/>
<path d="M1473.25 68 L1476.25 68 Q1478.75 68 1478.75 70.5 L1478.75 404.5" fill="none" stroke="#858585" stroke-width="1.8"/>
<line x1="1475" y1="404.5" x2="1995" y2="404.5" stroke="#7a7a7a" stroke-width="1.8"/>
<line x1="1473.75" y1="404.5" x2="1478.75" y2="404.5" stroke="#858585" stroke-width="1.5"/>
<text x="1427.82" y="412.21" font-family='"Liberation Sans", Arial, sans-serif' font-size="22.4" font-weight="normal" fill="#000" textLength="33.11" lengthAdjust="spacingAndGlyphs" stroke="#000" stroke-width="0.45">0.0</text>
<line x1="1473.75" y1="320.38" x2="1478.75" y2="320.38" stroke="#858585" stroke-width="1.5"/>
<text x="1427.82" y="328.09" font-family='"Liberation Sans", Arial, sans-serif' font-size="22.4" font-weight="normal" fill="#000" textLength="33.18" lengthAdjust="spacingAndGlyphs" stroke="#000" stroke-width="0.45">0.5</text>
<line x1="1473.75" y1="236.25" x2="1478.75" y2="236.25" stroke="#858585" stroke-width="1.5"/>
<text x="1426.88" y="243.96" font-family='"Liberation Sans", Arial, sans-serif' font-size="22.4" font-weight="normal" fill="#000" textLength="34.07" lengthAdjust="spacingAndGlyphs" stroke="#000" stroke-width="0.45">1.0</text>
<line x1="1473.75" y1="152.12" x2="1478.75" y2="152.12" stroke="#858585" stroke-width="1.5"/>
<text x="1426.88" y="159.72" font-family='"Liberation Sans", Arial, sans-serif' font-size="22.4" font-weight="normal" fill="#000" textLength="34.15" lengthAdjust="spacingAndGlyphs" stroke="#000" stroke-width="0.45">1.5</text>
<text x="1427.54" y="75.71" font-family='"Liberation Sans", Arial, sans-serif' font-size="22.4" font-weight="normal" fill="#000" textLength="33.4" lengthAdjust="spacingAndGlyphs" stroke="#000" stroke-width="0.45">2.0</text>
<rect x="1493" y="91.25" width="234" height="6.75" fill="#8e8e8e" stroke="#575757" stroke-width="1.8" rx="2.5"/>
<rect x="1746.25" y="91.25" width="234.25" height="6.75" fill="#ffffff" stroke="#808080" stroke-width="1.7" rx="2.5"/>
<text x="1592.39" y="79.15" font-family='"Liberation Sans", Arial, sans-serif' font-size="25.14" font-weight="normal" fill="#111" textLength="17.16" lengthAdjust="spacingAndGlyphs" stroke="#111" stroke-width="0.5">G</text>
<text x="1609.15" y="84.4" font-family='"Liberation Sans", Arial, sans-serif' font-size="16.33" font-weight="normal" fill="#333" textLength="22.53" lengthAdjust="spacingAndGlyphs" stroke="#333" stroke-width="0.4">5.5</text>
<text x="1852.64" y="79.15" font-family='"Liberation Sans", Arial, sans-serif' font-size="25.14" font-weight="normal" fill="#111" textLength="17.16" lengthAdjust="spacingAndGlyphs" stroke="#111" stroke-width="0.5">G</text>
<text x="1869.76" y="84.4" font-family='"Liberation Sans", Arial, sans-serif' font-size="16.33" font-weight="normal" fill="#333" textLength="10.47" lengthAdjust="spacingAndGlyphs" stroke="#333" stroke-width="0.4">0</text>
<line x1="1705" y1="175" x2="1957" y2="175" stroke="#8a8a8a" stroke-width="2"/>
<text x="1833.02" y="169.24" font-family='"DejaVu Sans", sans-serif' font-size="17.5" font-weight="bold" fill="#111" textLength="13.95" lengthAdjust="spacingAndGlyphs">∗</text>
<line x1="1833.75" y1="201.25" x2="1957" y2="201.25" stroke="#8a8a8a" stroke-width="2"/>
<text x="1890.52" y="196.74" font-family='"DejaVu Sans", sans-serif' font-size="17.5" font-weight="bold" fill="#111" textLength="13.95" lengthAdjust="spacingAndGlyphs">∗</text>
<text x="1499.87" y="432.99" font-family='"Liberation Sans", Arial, sans-serif' font-size="19.6" font-weight="bold" fill="#111" textLength="12.76" lengthAdjust="spacingAndGlyphs" stroke="#111" stroke-width="0.35">V</text>
<text x="1551.82" y="432.99" font-family='"Liberation Sans", Arial, sans-serif' font-size="19.6" font-weight="bold" fill="#111" textLength="37.12" lengthAdjust="spacingAndGlyphs" stroke="#111" stroke-width="0.35">DEX</text>
<text x="1617.37" y="432.99" font-family='"Liberation Sans", Arial, sans-serif' font-size="19.6" font-weight="bold" fill="#111" textLength="26.52" lengthAdjust="spacingAndGlyphs" stroke="#111" stroke-width="0.35">NE</text>
<text x="1662.57" y="432.99" font-family='"Liberation Sans", Arial, sans-serif' font-size="19.6" font-weight="bold" fill="#111" textLength="74.11" lengthAdjust="spacingAndGlyphs" stroke="#111" stroke-width="0.35">DEX/NE</text>
<text x="1758.62" y="432.99" font-family='"Liberation Sans", Arial, sans-serif' font-size="19.6" font-weight="bold" fill="#111" textLength="12.76" lengthAdjust="spacingAndGlyphs" stroke="#111" stroke-width="0.35">V</text>
<text x="1806.32" y="432.99" font-family='"Liberation Sans", Arial, sans-serif' font-size="19.6" font-weight="bold" fill="#111" textLength="37.12" lengthAdjust="spacingAndGlyphs" stroke="#111" stroke-width="0.35">DEX</text>
<text x="1877.72" y="432.99" font-family='"Liberation Sans", Arial, sans-serif' font-size="19.6" font-weight="bold" fill="#111" textLength="26.52" lengthAdjust="spacingAndGlyphs" stroke="#111" stroke-width="0.35">NE</text>
<text x="1921.67" y="432.99" font-family='"Liberation Sans", Arial, sans-serif' font-size="19.6" font-weight="bold" fill="#111" textLength="74.11" lengthAdjust="spacingAndGlyphs" stroke="#111" stroke-width="0.35">DEX/NE</text>
<text x="1347.29" y="33.56" font-family='"Liberation Sans", Arial, sans-serif' font-size="31.12" font-weight="bold" fill="#000" textLength="41.92" lengthAdjust="spacingAndGlyphs">(e)</text>
<text transform="translate(1400,400) rotate(-90)" x="-2.11" y="0" font-family='"Liberation Sans", Arial, sans-serif' font-size="29" font-weight="normal" fill="#000" stroke="#000" stroke-width="0.45" textLength="341.96" lengthAdjust="spacingAndGlyphs">Mean Normalized β1-AR O.D.</text>
<rect x="1483" y="441" width="504.6" height="78.8" fill="#f6f6f6" stroke="none" stroke-width="0"/>
<rect x="1494" y="442.5" width="51" height="75.8" fill="#ededed" filter="url(#blur1)"/>
<rect x="1555" y="442.5" width="48" height="75.8" fill="#ededed" filter="url(#blur1)"/>
<rect x="1611" y="442.5" width="55" height="75.8" fill="#ededed" filter="url(#blur1)"/>
<rect x="1674" y="442.5" width="55" height="75.8" fill="#ededed" filter="url(#blur1)"/>
<rect x="1741" y="442.5" width="51" height="75.8" fill="#ededed" filter="url(#blur1)"/>
<rect x="1801" y="442.5" width="57" height="75.8" fill="#ededed" filter="url(#blur1)"/>
<rect x="1866" y="442.5" width="54" height="75.8" fill="#ededed" filter="url(#blur1)"/>
<rect x="1934" y="442.5" width="50" height="75.8" fill="#ededed" filter="url(#blur1)"/>
<path d="M1986.5 445 H1990.2 V496 H1986.5" fill="none" stroke="#8a8a8a" stroke-width="1.4"/>
<rect x="1499.4" y="476" width="40.2" height="27" fill="url(#sg9)" filter="url(#blur2)"/>
<rect x="1560" y="472" width="38" height="27" fill="url(#sg10)" filter="url(#blur2)"/>
<rect x="1616" y="469.8" width="45" height="27" fill="url(#sg11)" filter="url(#blur2)"/>
<rect x="1679" y="468.8" width="44.7" height="27" fill="url(#sg12)" filter="url(#blur2)"/>
<rect x="1746" y="467.3" width="40.6" height="27" fill="url(#sg13)" filter="url(#blur2)"/>
<rect x="1806.6" y="466.7" width="46.7" height="27" fill="url(#sg14)" filter="url(#blur2)"/>
<rect x="1871.4" y="465.7" width="43.9" height="27" fill="url(#sg15)" filter="url(#blur2)"/>
<rect x="1939" y="468" width="40.7" height="27" fill="url(#sg16)" filter="url(#blur2)"/>
<rect x="1498.4" y="500" width="42.2" height="12.4" rx="4.96" fill="#000" filter="url(#blur1)"/>
<rect x="1559" y="496" width="40" height="13" rx="5.2" fill="#000" filter="url(#blur1)"/>
<rect x="1615" y="493.8" width="47" height="12.2" rx="4.88" fill="#000" filter="url(#blur1)"/>
<rect x="1678" y="492.8" width="46.7" height="11.5" rx="4.6" fill="#000" filter="url(#blur1)"/>
<rect x="1745" y="491.3" width="42.6" height="12.4" rx="4.96" fill="#000" filter="url(#blur1)"/>
<rect x="1805.6" y="490.7" width="48.7" height="12.3" rx="4.92" fill="#000" filter="url(#blur1)"/>
<rect x="1870.4" y="489.7" width="45.9" height="11.5" rx="4.6" fill="#000" filter="url(#blur1)"/>
<rect x="1938" y="492" width="42.7" height="11" rx="4.4" fill="#000" filter="url(#blur1)"/>
<text x="1408.44" y="460.19" font-family='"Liberation Sans", Arial, sans-serif' font-size="18" font-weight="bold" fill="#111" textLength="24.88" lengthAdjust="spacingAndGlyphs">75</text>
<line x1="1439" y1="453.5" x2="1476" y2="453.5" stroke="#111" stroke-width="3.2"/>
<text x="1409.31" y="512.39" font-family='"Liberation Sans", Arial, sans-serif' font-size="18" font-weight="bold" fill="#111" textLength="24.91" lengthAdjust="spacingAndGlyphs">50</text>
<line x1="1439" y1="506.2" x2="1476" y2="506.2" stroke="#111" stroke-width="3.2"/>
<rect x="122.5" y="830" width="59" height="112" fill="#b2b2b2" stroke="#474747" stroke-width="1.6"/>
<line x1="152" y1="830" x2="152" y2="826.75" stroke="#555" stroke-width="1.6"/>
<line x1="146.5" y1="826.75" x2="157.5" y2="826.75" stroke="#555" stroke-width="1.8"/>
<rect x="188" y="749.5" width="59" height="192.5" fill="url(#hg)" stroke="#474747" stroke-width="1.6"/>
<line x1="217.5" y1="749.5" x2="217.5" y2="738.75" stroke="#555" stroke-width="1.6"/>
<line x1="212" y1="738.75" x2="223" y2="738.75" stroke="#555" stroke-width="1.8"/>
<rect x="252.5" y="843.25" width="59" height="98.75" fill="url(#dg)" stroke="#474747" stroke-width="1.6"/>
<line x1="282" y1="843.25" x2="282" y2="838" stroke="#555" stroke-width="1.6"/>
<line x1="276.5" y1="838" x2="287.5" y2="838" stroke="#555" stroke-width="1.8"/>
<rect x="318" y="754" width="59" height="188" fill="url(#xg)" stroke="#474747" stroke-width="1.6"/>
<line x1="347.5" y1="754" x2="347.5" y2="730.25" stroke="#555" stroke-width="1.6"/>
<line x1="342" y1="730.25" x2="353" y2="730.25" stroke="#555" stroke-width="1.8"/>
<rect x="383.75" y="840" width="59" height="102" fill="#ffffff" stroke="#555555" stroke-width="1.6"/>
<line x1="413.25" y1="840" x2="413.25" y2="829.5" stroke="#555" stroke-width="1.6"/>
<line x1="407.75" y1="829.5" x2="418.75" y2="829.5" stroke="#555" stroke-width="1.8"/>
<rect x="448.5" y="712" width="59" height="230" fill="url(#hw)" stroke="#555555" stroke-width="1.6"/>
<line x1="478" y1="712" x2="478" y2="706.25" stroke="#555" stroke-width="1.6"/>
<line x1="472.5" y1="706.25" x2="483.5" y2="706.25" stroke="#555" stroke-width="1.8"/>
<rect x="513.75" y="864.5" width="59" height="77.5" fill="url(#dw)" stroke="#555555" stroke-width="1.6"/>
<line x1="543.25" y1="864.5" x2="543.25" y2="848.25" stroke="#555" stroke-width="1.6"/>
<line x1="537.75" y1="848.25" x2="548.75" y2="848.25" stroke="#555" stroke-width="1.8"/>
<rect x="578.25" y="741.75" width="59" height="200.25" fill="url(#xw)" stroke="#555555" stroke-width="1.6"/>
<line x1="607.75" y1="741.75" x2="607.75" y2="740.75" stroke="#555" stroke-width="1.6"/>
<line x1="602.25" y1="740.75" x2="613.25" y2="740.75" stroke="#555" stroke-width="1.8"/>
<path d="M110 606.6 L113 606.6 Q115.5 606.6 115.5 609.1 L115.5 942" fill="none" stroke="#858585" stroke-width="1.8"/>
<line x1="111.25" y1="942" x2="640" y2="942" stroke="#7a7a7a" stroke-width="1.8"/>
<line x1="110.5" y1="942" x2="115.5" y2="942" stroke="#858585" stroke-width="1.5"/>
<text x="60.21" y="950.4" font-family='"Liberation Sans", Arial, sans-serif' font-size="24.4" font-weight="normal" fill="#000" textLength="37.08" lengthAdjust="spacingAndGlyphs" stroke="#000" stroke-width="0.45">0.0</text>
<line x1="110.5" y1="886.1" x2="115.5" y2="886.1" stroke="#858585" stroke-width="1.5"/>
<text x="60.21" y="894.5" font-family='"Liberation Sans", Arial, sans-serif' font-size="24.4" font-weight="normal" fill="#000" textLength="37.17" lengthAdjust="spacingAndGlyphs" stroke="#000" stroke-width="0.45">0.5</text>
<line x1="110.5" y1="830.2" x2="115.5" y2="830.2" stroke="#858585" stroke-width="1.5"/>
<text x="59.16" y="838.6" font-family='"Liberation Sans", Arial, sans-serif' font-size="24.4" font-weight="normal" fill="#000" textLength="38.16" lengthAdjust="spacingAndGlyphs" stroke="#000" stroke-width="0.45">1.0</text>
<line x1="110.5" y1="774.3" x2="115.5" y2="774.3" stroke="#858585" stroke-width="1.5"/>
<text x="59.15" y="782.57" font-family='"Liberation Sans", Arial, sans-serif' font-size="24.4" font-weight="normal" fill="#000" textLength="38.25" lengthAdjust="spacingAndGlyphs" stroke="#000" stroke-width="0.45">1.5</text>
<line x1="110.5" y1="718.4" x2="115.5" y2="718.4" stroke="#858585" stroke-width="1.5"/>
<text x="59.9" y="726.8" font-family='"Liberation Sans", Arial, sans-serif' font-size="24.4" font-weight="normal" fill="#000" textLength="37.4" lengthAdjust="spacingAndGlyphs" stroke="#000" stroke-width="0.45">2.0</text>
<line x1="110.5" y1="662.5" x2="115.5" y2="662.5" stroke="#858585" stroke-width="1.5"/>
<text x="59.89" y="670.9" font-family='"Liberation Sans", Arial, sans-serif' font-size="24.4" font-weight="normal" fill="#000" textLength="37.49" lengthAdjust="spacingAndGlyphs" stroke="#000" stroke-width="0.45">2.5</text>
<text x="60.23" y="615" font-family='"Liberation Sans", Arial, sans-serif' font-size="24.4" font-weight="normal" fill="#000" textLength="37.06" lengthAdjust="spacingAndGlyphs" stroke="#000" stroke-width="0.45">3.0</text>
<rect x="130.5" y="627.5" width="238.75" height="7" fill="#8e8e8e" stroke="#575757" stroke-width="1.8" rx="2.5"/>
<rect x="388.75" y="627.5" width="239.25" height="7" fill="#ffffff" stroke="#808080" stroke-width="1.7" rx="2.5"/>
<text x="232.64" y="616.42" font-family='"Liberation Sans", Arial, sans-serif' font-size="23.38" font-weight="normal" fill="#111" textLength="17.16" lengthAdjust="spacingAndGlyphs" stroke="#111" stroke-width="0.5">G</text>
<text x="250.15" y="621.65" font-family='"Liberation Sans", Arial, sans-serif' font-size="16.33" font-weight="normal" fill="#333" textLength="22.53" lengthAdjust="spacingAndGlyphs" stroke="#333" stroke-width="0.4">5.5</text>
<text x="495.14" y="616.42" font-family='"Liberation Sans", Arial, sans-serif' font-size="23.38" font-weight="normal" fill="#111" textLength="17.16" lengthAdjust="spacingAndGlyphs" stroke="#111" stroke-width="0.5">G</text>
<text x="511.51" y="621.65" font-family='"Liberation Sans", Arial, sans-serif' font-size="16.33" font-weight="normal" fill="#333" textLength="10.47" lengthAdjust="spacingAndGlyphs" stroke="#333" stroke-width="0.4">0</text>
<line x1="413" y1="673.75" x2="603.75" y2="673.75" stroke="#8a8a8a" stroke-width="2"/>
<text x="489.1" y="669.99" font-family='"DejaVu Sans", sans-serif' font-size="17.5" font-weight="bold" fill="#111" textLength="45.55" lengthAdjust="spacingAndGlyphs">∗∗∗</text>
<line x1="413" y1="696.75" x2="475.5" y2="696.75" stroke="#8a8a8a" stroke-width="2"/>
<text x="420.35" y="694.99" font-family='"DejaVu Sans", sans-serif' font-size="17.5" font-weight="bold" fill="#111" textLength="45.55" lengthAdjust="spacingAndGlyphs">∗∗∗</text>
<line x1="287.5" y1="720" x2="349.25" y2="720" stroke="#8a8a8a" stroke-width="2"/>
<text x="292.85" y="717.99" font-family='"DejaVu Sans", sans-serif' font-size="17.5" font-weight="bold" fill="#111" textLength="45.55" lengthAdjust="spacingAndGlyphs">∗∗∗</text>
<line x1="154.5" y1="785" x2="217" y2="785" stroke="#8a8a8a" stroke-width="2"/>
<text x="160.35" y="782.99" font-family='"DejaVu Sans", sans-serif' font-size="17.5" font-weight="bold" fill="#111" textLength="45.55" lengthAdjust="spacingAndGlyphs">∗∗∗</text>
<line x1="222.5" y1="814.5" x2="285" y2="814.5" stroke="#8a8a8a" stroke-width="2"/>
<text x="231.6" y="812.49" font-family='"DejaVu Sans", sans-serif' font-size="17.5" font-weight="bold" fill="#111" textLength="45.55" lengthAdjust="spacingAndGlyphs">∗∗∗</text>
<line x1="482.5" y1="816.25" x2="545" y2="816.25" stroke="#8a8a8a" stroke-width="2"/>
<text x="489.13" y="812.99" font-family='"DejaVu Sans", sans-serif' font-size="17.5" font-weight="bold" fill="#111" textLength="45" lengthAdjust="spacingAndGlyphs">∗∗∗</text>
<line x1="550" y1="785" x2="611.25" y2="785" stroke="#8a8a8a" stroke-width="2"/>
<text x="556.14" y="782.99" font-family='"DejaVu Sans", sans-serif' font-size="17.5" font-weight="bold" fill="#111" textLength="44.72" lengthAdjust="spacingAndGlyphs">∗∗∗</text>
<text x="142.37" y="969.24" font-family='"Liberation Sans", Arial, sans-serif' font-size="19.6" font-weight="bold" fill="#111" textLength="12.76" lengthAdjust="spacingAndGlyphs" stroke="#111" stroke-width="0.35">V</text>
<text x="194.92" y="969.24" font-family='"Liberation Sans", Arial, sans-serif' font-size="19.6" font-weight="bold" fill="#111" textLength="37.12" lengthAdjust="spacingAndGlyphs" stroke="#111" stroke-width="0.35">DEX</text>
<text x="262.37" y="969.24" font-family='"Liberation Sans", Arial, sans-serif' font-size="19.6" font-weight="bold" fill="#111" textLength="26.52" lengthAdjust="spacingAndGlyphs" stroke="#111" stroke-width="0.35">NE</text>
<text x="308.57" y="969.24" font-family='"Liberation Sans", Arial, sans-serif' font-size="19.6" font-weight="bold" fill="#111" textLength="74.11" lengthAdjust="spacingAndGlyphs" stroke="#111" stroke-width="0.35">DEX/NE</text>
<text x="406.62" y="969.24" font-family='"Liberation Sans", Arial, sans-serif' font-size="19.6" font-weight="bold" fill="#111" textLength="12.76" lengthAdjust="spacingAndGlyphs" stroke="#111" stroke-width="0.35">V</text>
<text x="454.67" y="969.24" font-family='"Liberation Sans", Arial, sans-serif' font-size="19.6" font-weight="bold" fill="#111" textLength="37.12" lengthAdjust="spacingAndGlyphs" stroke="#111" stroke-width="0.35">DEX</text>
<text x="527.72" y="969.24" font-family='"Liberation Sans", Arial, sans-serif' font-size="19.6" font-weight="bold" fill="#111" textLength="26.52" lengthAdjust="spacingAndGlyphs" stroke="#111" stroke-width="0.35">NE</text>
<text x="573.27" y="969.24" font-family='"Liberation Sans", Arial, sans-serif' font-size="19.6" font-weight="bold" fill="#111" textLength="74.11" lengthAdjust="spacingAndGlyphs" stroke="#111" stroke-width="0.35">DEX/NE</text>
<text x="1.28" y="556.11" font-family='"Liberation Sans", Arial, sans-serif' font-size="30.85" font-weight="bold" fill="#000" textLength="44.2" lengthAdjust="spacingAndGlyphs">(b)</text>
<text transform="translate(34,943.75) rotate(-90)" x="-2.12" y="0" font-family='"Liberation Sans", Arial, sans-serif' font-size="30" font-weight="normal" fill="#000" stroke="#000" stroke-width="0.45" textLength="343.22" lengthAdjust="spacingAndGlyphs">Mean Normalized α1-AR O.D.</text>
<rect x="113.75" y="981" width="528.55" height="64" fill="#f7f7f7" stroke="none" stroke-width="0"/>
<rect x="125" y="982.5" width="52" height="61" fill="#efefef" filter="url(#blur1)"/>
<rect x="189" y="982.5" width="54" height="61" fill="#efefef" filter="url(#blur1)"/>
<rect x="256" y="982.5" width="52" height="61" fill="#efefef" filter="url(#blur1)"/>
<rect x="323" y="982.5" width="55" height="61" fill="#efefef" filter="url(#blur1)"/>
<rect x="391" y="982.5" width="50" height="61" fill="#efefef" filter="url(#blur1)"/>
<rect x="456" y="982.5" width="55" height="61" fill="#efefef" filter="url(#blur1)"/>
<rect x="525" y="982.5" width="52" height="61" fill="#efefef" filter="url(#blur1)"/>
<rect x="590" y="982.5" width="52" height="61" fill="#efefef" filter="url(#blur1)"/>
<rect x="130.2" y="1011.8" width="41.3" height="12.2" rx="4.88" fill="#000" filter="url(#blur1)"/>
<rect x="194.3" y="1009" width="43.7" height="16.5" rx="6.6" fill="#000" filter="url(#blur1)"/>
<rect x="260.8" y="1014" width="42" height="9.7" rx="3.88" fill="#000" filter="url(#blur1)"/>
<rect x="328.3" y="1011.8" width="44.5" height="13.7" rx="5.48" fill="#000" filter="url(#blur1)"/>
<rect x="396.2" y="1015.3" width="39.6" height="10.5" rx="4.2" fill="#000" filter="url(#blur1)"/>
<rect x="461.3" y="1011.8" width="44.5" height="15.7" rx="6.28" fill="#000" filter="url(#blur1)"/>
<rect x="530.3" y="1017" width="42" height="9.5" rx="3.8" fill="#000" filter="url(#blur1)"/>
<rect x="595" y="1014.25" width="45.5" height="16.75" rx="6.7" fill="#000" filter="url(#blur1)"/>
<text x="42.74" y="998.39" font-family='"Liberation Sans", Arial, sans-serif' font-size="18" font-weight="bold" fill="#111" textLength="26.17" lengthAdjust="spacingAndGlyphs">75</text>
<line x1="71.75" y1="992" x2="112.7" y2="992" stroke="#111" stroke-width="3.2"/>
<text x="44.05" y="1041.44" font-family='"Liberation Sans", Arial, sans-serif' font-size="18" font-weight="bold" fill="#111" textLength="26.94" lengthAdjust="spacingAndGlyphs">50</text>
<line x1="71.75" y1="1035" x2="112.7" y2="1035" stroke="#111" stroke-width="3.2"/>
<rect x="814.25" y="835" width="60.5" height="116" fill="#b2b2b2" stroke="#474747" stroke-width="1.6"/>
<line x1="844.5" y1="835" x2="844.5" y2="831.75" stroke="#555" stroke-width="1.6"/>
<line x1="839" y1="831.75" x2="850" y2="831.75" stroke="#555" stroke-width="1.8"/>
<rect x="881.5" y="788.75" width="60.5" height="162.25" fill="url(#hg)" stroke="#474747" stroke-width="1.6"/>
<line x1="911.75" y1="788.75" x2="911.75" y2="783" stroke="#555" stroke-width="1.6"/>
<line x1="906.25" y1="783" x2="917.25" y2="783" stroke="#555" stroke-width="1.8"/>
<rect x="948" y="838" width="60.5" height="113" fill="url(#dg)" stroke="#474747" stroke-width="1.6"/>
<line x1="978.25" y1="838" x2="978.25" y2="826.25" stroke="#555" stroke-width="1.6"/>
<line x1="972.75" y1="826.25" x2="983.75" y2="826.25" stroke="#555" stroke-width="1.8"/>
<rect x="1015" y="764.5" width="60.5" height="186.5" fill="url(#xg)" stroke="#474747" stroke-width="1.6"/>
<line x1="1045.25" y1="764.5" x2="1045.25" y2="753.25" stroke="#555" stroke-width="1.6"/>
<line x1="1039.75" y1="753.25" x2="1050.75" y2="753.25" stroke="#555" stroke-width="1.8"/>
<rect x="1082" y="799.25" width="60.5" height="151.75" fill="#ffffff" stroke="#555555" stroke-width="1.6"/>
<line x1="1112.25" y1="799.25" x2="1112.25" y2="793" stroke="#555" stroke-width="1.6"/>
<line x1="1106.75" y1="793" x2="1117.75" y2="793" stroke="#555" stroke-width="1.8"/>
<rect x="1148.5" y="755.25" width="60.5" height="195.75" fill="url(#hw)" stroke="#555555" stroke-width="1.6"/>
<line x1="1178.75" y1="755.25" x2="1178.75" y2="749" stroke="#555" stroke-width="1.6"/>
<line x1="1173.25" y1="749" x2="1184.25" y2="749" stroke="#555" stroke-width="1.8"/>
<rect x="1215.25" y="800.75" width="60.5" height="150.25" fill="url(#dw)" stroke="#555555" stroke-width="1.6"/>
<line x1="1245.5" y1="800.75" x2="1245.5" y2="789.5" stroke="#555" stroke-width="1.6"/>
<line x1="1240" y1="789.5" x2="1251" y2="789.5" stroke="#555" stroke-width="1.8"/>
<rect x="1282.5" y="818" width="60.5" height="133" fill="url(#xw)" stroke="#555555" stroke-width="1.6"/>
<line x1="1312.75" y1="818" x2="1312.75" y2="817" stroke="#555" stroke-width="1.6"/>
<line x1="1307.25" y1="817" x2="1318.25" y2="817" stroke="#555" stroke-width="1.8"/>
<path d="M803.25 603 L806.25 603 Q808.75 603 808.75 605.5 L808.75 951" fill="none" stroke="#858585" stroke-width="1.8"/>
<line x1="802.5" y1="951" x2="1345" y2="951" stroke="#7a7a7a" stroke-width="1.8"/>
<line x1="803.75" y1="951" x2="808.75" y2="951" stroke="#858585" stroke-width="1.5"/>
<text x="751.46" y="959.4" font-family='"Liberation Sans", Arial, sans-serif' font-size="24.4" font-weight="normal" fill="#000" textLength="37.08" lengthAdjust="spacingAndGlyphs" stroke="#000" stroke-width="0.45">0.0</text>
<line x1="803.75" y1="893" x2="808.75" y2="893" stroke="#858585" stroke-width="1.5"/>
<text x="751.46" y="901.4" font-family='"Liberation Sans", Arial, sans-serif' font-size="24.4" font-weight="normal" fill="#000" textLength="37.17" lengthAdjust="spacingAndGlyphs" stroke="#000" stroke-width="0.45">0.5</text>
<line x1="803.75" y1="835" x2="808.75" y2="835" stroke="#858585" stroke-width="1.5"/>
<text x="750.41" y="843.4" font-family='"Liberation Sans", Arial, sans-serif' font-size="24.4" font-weight="normal" fill="#000" textLength="38.16" lengthAdjust="spacingAndGlyphs" stroke="#000" stroke-width="0.45">1.0</text>
<line x1="803.75" y1="777" x2="808.75" y2="777" stroke="#858585" stroke-width="1.5"/>
<text x="750.4" y="785.27" font-family='"Liberation Sans", Arial, sans-serif' font-size="24.4" font-weight="normal" fill="#000" textLength="38.25" lengthAdjust="spacingAndGlyphs" stroke="#000" stroke-width="0.45">1.5</text>
<line x1="803.75" y1="719" x2="808.75" y2="719" stroke="#858585" stroke-width="1.5"/>
<text x="751.15" y="727.4" font-family='"Liberation Sans", Arial, sans-serif' font-size="24.4" font-weight="normal" fill="#000" textLength="37.4" lengthAdjust="spacingAndGlyphs" stroke="#000" stroke-width="0.45">2.0</text>
<line x1="803.75" y1="661" x2="808.75" y2="661" stroke="#858585" stroke-width="1.5"/>
<text x="751.14" y="669.4" font-family='"Liberation Sans", Arial, sans-serif' font-size="24.4" font-weight="normal" fill="#000" textLength="37.49" lengthAdjust="spacingAndGlyphs" stroke="#000" stroke-width="0.45">2.5</text>
<text x="751.48" y="611.4" font-family='"Liberation Sans", Arial, sans-serif' font-size="24.4" font-weight="normal" fill="#000" textLength="37.06" lengthAdjust="spacingAndGlyphs" stroke="#000" stroke-width="0.45">3.0</text>
<rect x="821.25" y="625.5" width="243.75" height="7" fill="#8e8e8e" stroke="#575757" stroke-width="1.8" rx="2.5"/>
<rect x="1085.5" y="625.5" width="243.75" height="7" fill="#ffffff" stroke="#808080" stroke-width="1.7" rx="2.5"/>
<text x="922.64" y="613.92" font-family='"Liberation Sans", Arial, sans-serif' font-size="23.38" font-weight="normal" fill="#111" textLength="17.16" lengthAdjust="spacingAndGlyphs" stroke="#111" stroke-width="0.5">G</text>
<text x="940.65" y="619.15" font-family='"Liberation Sans", Arial, sans-serif' font-size="16.33" font-weight="normal" fill="#333" textLength="22.53" lengthAdjust="spacingAndGlyphs" stroke="#333" stroke-width="0.4">5.5</text>
<text x="1193.89" y="613.92" font-family='"Liberation Sans", Arial, sans-serif' font-size="23.38" font-weight="normal" fill="#111" textLength="17.16" lengthAdjust="spacingAndGlyphs" stroke="#111" stroke-width="0.5">G</text>
<text x="1211.51" y="619.15" font-family='"Liberation Sans", Arial, sans-serif' font-size="16.33" font-weight="normal" fill="#333" textLength="10.47" lengthAdjust="spacingAndGlyphs" stroke="#333" stroke-width="0.4">0</text>
<line x1="852.5" y1="745" x2="1046.25" y2="745" stroke="#8a8a8a" stroke-width="2"/>
<text x="922.81" y="743.49" font-family='"DejaVu Sans", sans-serif' font-size="17.5" font-weight="bold" fill="#111" textLength="46.38" lengthAdjust="spacingAndGlyphs">∗∗∗</text>
<line x1="851.25" y1="772" x2="913.75" y2="772" stroke="#8a8a8a" stroke-width="2"/>
<text x="867.83" y="767.99" font-family='"DejaVu Sans", sans-serif' font-size="17.5" font-weight="bold" fill="#111" textLength="30.58" lengthAdjust="spacingAndGlyphs">∗∗</text>
<line x1="978.75" y1="785" x2="1041.25" y2="785" stroke="#8a8a8a" stroke-width="2"/>
<text x="989.1" y="782.49" font-family='"DejaVu Sans", sans-serif' font-size="17.5" font-weight="bold" fill="#111" textLength="45.55" lengthAdjust="spacingAndGlyphs">∗∗∗</text>
<line x1="911.25" y1="806.25" x2="973.75" y2="806.25" stroke="#8a8a8a" stroke-width="2"/>
<text x="927.83" y="804.24" font-family='"DejaVu Sans", sans-serif' font-size="17.5" font-weight="bold" fill="#111" textLength="30.58" lengthAdjust="spacingAndGlyphs">∗∗</text>
<line x1="912.5" y1="825" x2="1040" y2="825" stroke="#8a8a8a" stroke-width="2"/>
<text x="969.03" y="820.49" font-family='"DejaVu Sans", sans-serif' font-size="17.5" font-weight="bold" fill="#111" textLength="15.7" lengthAdjust="spacingAndGlyphs">∗</text>
<line x1="1110" y1="741.75" x2="1173.25" y2="741.75" stroke="#8a8a8a" stroke-width="2"/>
<text x="1127.83" y="737.49" font-family='"DejaVu Sans", sans-serif' font-size="17.5" font-weight="bold" fill="#111" textLength="30.58" lengthAdjust="spacingAndGlyphs">∗∗</text>
<line x1="1183.25" y1="718.75" x2="1246.25" y2="718.75" stroke="#8a8a8a" stroke-width="2"/>
<text x="1199.79" y="716.24" font-family='"DejaVu Sans", sans-serif' font-size="17.5" font-weight="bold" fill="#111" textLength="31.16" lengthAdjust="spacingAndGlyphs">∗∗</text>
<line x1="1182" y1="741.75" x2="1311.25" y2="741.75" stroke="#8a8a8a" stroke-width="2"/>
<text x="1219.82" y="737.49" font-family='"DejaVu Sans", sans-serif' font-size="17.5" font-weight="bold" fill="#111" textLength="46.1" lengthAdjust="spacingAndGlyphs">∗∗∗</text>
<line x1="838" y1="875.5" x2="1112.5" y2="875.5" stroke="#4d4d4d" stroke-width="1.25"/>
<text x="974.02" y="874.99" font-family='"DejaVu Sans", sans-serif' font-size="17.5" font-weight="bold" fill="#111" textLength="13.95" lengthAdjust="spacingAndGlyphs">∗</text>
<line x1="906.25" y1="896.75" x2="1181.25" y2="896.75" stroke="#4d4d4d" stroke-width="1.25"/>
<text x="1038.02" y="894.24" font-family='"DejaVu Sans", sans-serif' font-size="17.5" font-weight="bold" fill="#111" textLength="13.95" lengthAdjust="spacingAndGlyphs">∗</text>
<line x1="976.25" y1="915.5" x2="1247.5" y2="915.5" stroke="#4d4d4d" stroke-width="1.25"/>
<text x="1103.02" y="913.49" font-family='"DejaVu Sans", sans-serif' font-size="17.5" font-weight="bold" fill="#111" textLength="13.95" lengthAdjust="spacingAndGlyphs">∗</text>
<line x1="1046.25" y1="933.75" x2="1316.25" y2="933.75" stroke="#4d4d4d" stroke-width="1.25"/>
<text x="1174.02" y="932.99" font-family='"DejaVu Sans", sans-serif' font-size="17.5" font-weight="bold" fill="#111" textLength="13.95" lengthAdjust="spacingAndGlyphs">∗</text>
<text x="832.87" y="978.74" font-family='"Liberation Sans", Arial, sans-serif' font-size="19.6" font-weight="bold" fill="#111" textLength="12.76" lengthAdjust="spacingAndGlyphs" stroke="#111" stroke-width="0.35">V</text>
<text x="887.52" y="978.74" font-family='"Liberation Sans", Arial, sans-serif' font-size="19.6" font-weight="bold" fill="#111" textLength="37.12" lengthAdjust="spacingAndGlyphs" stroke="#111" stroke-width="0.35">DEX</text>
<text x="955.97" y="978.74" font-family='"Liberation Sans", Arial, sans-serif' font-size="19.6" font-weight="bold" fill="#111" textLength="26.52" lengthAdjust="spacingAndGlyphs" stroke="#111" stroke-width="0.35">NE</text>
<text x="1003.57" y="978.74" font-family='"Liberation Sans", Arial, sans-serif' font-size="19.6" font-weight="bold" fill="#111" textLength="74.11" lengthAdjust="spacingAndGlyphs" stroke="#111" stroke-width="0.35">DEX/NE</text>
<text x="1103.12" y="978.74" font-family='"Liberation Sans", Arial, sans-serif' font-size="19.6" font-weight="bold" fill="#111" textLength="12.76" lengthAdjust="spacingAndGlyphs" stroke="#111" stroke-width="0.35">V</text>
<text x="1152.82" y="978.74" font-family='"Liberation Sans", Arial, sans-serif' font-size="19.6" font-weight="bold" fill="#111" textLength="37.12" lengthAdjust="spacingAndGlyphs" stroke="#111" stroke-width="0.35">DEX</text>
<text x="1227.07" y="978.74" font-family='"Liberation Sans", Arial, sans-serif' font-size="19.6" font-weight="bold" fill="#111" textLength="26.52" lengthAdjust="spacingAndGlyphs" stroke="#111" stroke-width="0.35">NE</text>
<text x="1274.57" y="978.74" font-family='"Liberation Sans", Arial, sans-serif' font-size="19.6" font-weight="bold" fill="#111" textLength="74.11" lengthAdjust="spacingAndGlyphs" stroke="#111" stroke-width="0.35">DEX/NE</text>
<text x="684.56" y="556.11" font-family='"Liberation Sans", Arial, sans-serif' font-size="30.85" font-weight="bold" fill="#000" textLength="43.38" lengthAdjust="spacingAndGlyphs">(d)</text>
<text transform="translate(726.25,951.75) rotate(-90)" x="-2.18" y="0" font-family='"Liberation Sans", Arial, sans-serif' font-size="30" font-weight="normal" fill="#000" stroke="#000" stroke-width="0.45" textLength="353.86" lengthAdjust="spacingAndGlyphs">Mean Normalized α2-AR O.D.</text>
<rect x="806.75" y="988" width="544.25" height="78.75" fill="#f8f8f8" stroke="none" stroke-width="0"/>
<rect x="820.75" y="989.5" width="43.75" height="75.75" fill="#e0e0e0" filter="url(#blur1)"/>
<rect x="887.25" y="989.5" width="44.45" height="75.75" fill="#e0e0e0" filter="url(#blur1)"/>
<rect x="953.75" y="989.5" width="43.75" height="75.75" fill="#e0e0e0" filter="url(#blur1)"/>
<rect x="1022" y="989.5" width="45.5" height="75.75" fill="#e0e0e0" filter="url(#blur1)"/>
<rect x="1090.25" y="989.5" width="45.55" height="75.75" fill="#e0e0e0" filter="url(#blur1)"/>
<rect x="1156.8" y="989.5" width="45.5" height="75.75" fill="#e0e0e0" filter="url(#blur1)"/>
<rect x="1225" y="989.5" width="45.5" height="75.75" fill="#e0e0e0" filter="url(#blur1)"/>
<rect x="1293.3" y="989.5" width="47.2" height="75.75" fill="#e0e0e0" filter="url(#blur1)"/>
<rect x="821.75" y="990" width="41.75" height="36" fill="#cdcdcd" filter="url(#blur2)"/>
<rect x="888.25" y="990" width="42.45" height="36" fill="#cdcdcd" filter="url(#blur2)"/>
<rect x="954.75" y="990" width="41.75" height="36" fill="#cdcdcd" filter="url(#blur2)"/>
<rect x="1023" y="990" width="43.5" height="36" fill="#cdcdcd" filter="url(#blur2)"/>
<rect x="1091.25" y="990" width="43.55" height="36" fill="#cdcdcd" filter="url(#blur2)"/>
<rect x="1157.8" y="990" width="43.5" height="36" fill="#cdcdcd" filter="url(#blur2)"/>
<rect x="1226" y="990" width="43.5" height="36" fill="#cdcdcd" filter="url(#blur2)"/>
<rect x="1294.3" y="990" width="45.2" height="36" fill="#cdcdcd" filter="url(#blur2)"/>
<rect x="821.75" y="991.5" width="41.75" height="7" fill="#a8a8a8" filter="url(#blur2)"/>
<rect x="888.25" y="991.5" width="42.45" height="7" fill="#9a9a9a" filter="url(#blur2)"/>
<rect x="954.75" y="991.5" width="41.75" height="7" fill="#ababab" filter="url(#blur2)"/>
<rect x="1023" y="991.5" width="43.5" height="7" fill="#9a9a9a" filter="url(#blur2)"/>
<rect x="1091.25" y="991.5" width="43.55" height="7" fill="#b0b0b0" filter="url(#blur2)"/>
<rect x="1157.8" y="991.5" width="43.5" height="7" fill="#989898" filter="url(#blur2)"/>
<rect x="1226" y="991.5" width="43.5" height="7" fill="#a8a8a8" filter="url(#blur2)"/>
<rect x="1294.3" y="991.5" width="45.2" height="7" fill="#a0a0a0" filter="url(#blur2)"/>
<rect x="821.75" y="1009" width="41.75" height="9" fill="#8e8e8e" filter="url(#blur2)"/>
<rect x="888.25" y="1009" width="42.45" height="9" fill="#969696" filter="url(#blur2)"/>
<rect x="954.75" y="1009" width="41.75" height="9" fill="#a8a8a8" filter="url(#blur2)"/>
<rect x="1023" y="1009" width="43.5" height="9" fill="#999" filter="url(#blur2)"/>
<rect x="1091.25" y="1009" width="43.55" height="9" fill="#a5a5a5" filter="url(#blur2)"/>
<rect x="1157.8" y="1009" width="43.5" height="9" fill="#949494" filter="url(#blur2)"/>
<rect x="1226" y="1009" width="43.5" height="9" fill="#9d9d9d" filter="url(#blur2)"/>
<rect x="1294.3" y="1009" width="45.2" height="9" fill="#9a9a9a" filter="url(#blur2)"/>
<rect x="820.75" y="990" width="43.75" height="74.75" fill="#000" filter="url(#noise1)" opacity="0.55"/>
<rect x="887.25" y="990" width="44.45" height="74.75" fill="#000" filter="url(#noise1)" opacity="0.55"/>
<rect x="953.75" y="990" width="43.75" height="74.75" fill="#000" filter="url(#noise1)" opacity="0.55"/>
<rect x="1022" y="990" width="45.5" height="74.75" fill="#000" filter="url(#noise1)" opacity="0.55"/>
<rect x="1090.25" y="990" width="45.55" height="74.75" fill="#000" filter="url(#noise1)" opacity="0.55"/>
<rect x="1156.8" y="990" width="45.5" height="74.75" fill="#000" filter="url(#noise1)" opacity="0.55"/>
<rect x="1225" y="990" width="45.5" height="74.75" fill="#000" filter="url(#noise1)" opacity="0.55"/>
<rect x="1293.3" y="990" width="47.2" height="74.75" fill="#000" filter="url(#noise1)" opacity="0.55"/>
<rect x="820.75" y="1050.3" width="43.75" height="8.4" rx="3.36" fill="#000" filter="url(#blur1)"/>
<rect x="887.25" y="1050.3" width="44.45" height="8.4" rx="3.36" fill="#000" filter="url(#blur1)"/>
<rect x="953.75" y="1050.3" width="43.75" height="8.4" rx="3.36" fill="#000" filter="url(#blur1)"/>
<rect x="1022" y="1050.3" width="45.5" height="8.4" rx="3.36" fill="#000" filter="url(#blur1)"/>
<rect x="1090.25" y="1050.3" width="45.55" height="8.4" rx="3.36" fill="#000" filter="url(#blur1)"/>
<rect x="1156.8" y="1050.3" width="45.5" height="8.4" rx="3.36" fill="#000" filter="url(#blur1)"/>
<rect x="1225" y="1050.3" width="45.5" height="8.4" rx="3.36" fill="#000" filter="url(#blur1)"/>
<rect x="1293.3" y="1050.3" width="47.2" height="8.4" rx="3.36" fill="#000" filter="url(#blur1)"/>
<text x="742.74" y="1007.19" font-family='"Liberation Sans", Arial, sans-serif' font-size="18" font-weight="bold" fill="#111" textLength="26.17" lengthAdjust="spacingAndGlyphs">75</text>
<line x1="772.8" y1="1000" x2="812" y2="1000" stroke="#111" stroke-width="3.2"/>
<text x="744.05" y="1050.19" font-family='"Liberation Sans", Arial, sans-serif' font-size="18" font-weight="bold" fill="#111" textLength="26.94" lengthAdjust="spacingAndGlyphs">50</text>
<line x1="772.8" y1="1044" x2="812" y2="1044" stroke="#111" stroke-width="3.2"/>
<rect x="1480" y="836.75" width="59" height="108.25" fill="#b2b2b2" stroke="#474747" stroke-width="1.6"/>
<line x1="1509.5" y1="836.75" x2="1509.5" y2="831.75" stroke="#555" stroke-width="1.6"/>
<line x1="1504" y1="831.75" x2="1515" y2="831.75" stroke="#555" stroke-width="1.8"/>
<rect x="1544.5" y="793.25" width="59" height="151.75" fill="url(#hg)" stroke="#474747" stroke-width="1.6"/>
<line x1="1574" y1="793.25" x2="1574" y2="790.5" stroke="#555" stroke-width="1.6"/>
<line x1="1568.5" y1="790.5" x2="1579.5" y2="790.5" stroke="#555" stroke-width="1.8"/>
<rect x="1609.25" y="840.75" width="59" height="104.25" fill="url(#dg)" stroke="#474747" stroke-width="1.6"/>
<line x1="1638.75" y1="840.75" x2="1638.75" y2="831.25" stroke="#555" stroke-width="1.6"/>
<line x1="1633.25" y1="831.25" x2="1644.25" y2="831.25" stroke="#555" stroke-width="1.8"/>
<rect x="1673.75" y="818" width="59" height="127" fill="url(#xg)" stroke="#474747" stroke-width="1.6"/>
<line x1="1703.25" y1="818" x2="1703.25" y2="813.75" stroke="#555" stroke-width="1.6"/>
<line x1="1697.75" y1="813.75" x2="1708.75" y2="813.75" stroke="#555" stroke-width="1.8"/>
<rect x="1738.25" y="785" width="59" height="160" fill="#ffffff" stroke="#555555" stroke-width="1.6"/>
<line x1="1767.75" y1="785" x2="1767.75" y2="776.75" stroke="#555" stroke-width="1.6"/>
<line x1="1762.25" y1="776.75" x2="1773.25" y2="776.75" stroke="#555" stroke-width="1.8"/>
<rect x="1802" y="805.75" width="59" height="139.25" fill="url(#hw)" stroke="#555555" stroke-width="1.6"/>
<line x1="1831.5" y1="805.75" x2="1831.5" y2="794.5" stroke="#555" stroke-width="1.6"/>
<line x1="1826" y1="794.5" x2="1837" y2="794.5" stroke="#555" stroke-width="1.8"/>
<rect x="1866.25" y="821.25" width="59" height="123.75" fill="url(#dw)" stroke="#555555" stroke-width="1.6"/>
<line x1="1895.75" y1="821.25" x2="1895.75" y2="815" stroke="#555" stroke-width="1.6"/>
<line x1="1890.25" y1="815" x2="1901.25" y2="815" stroke="#555" stroke-width="1.8"/>
<rect x="1930.75" y="827.5" width="59" height="117.5" fill="url(#xw)" stroke="#555555" stroke-width="1.6"/>
<line x1="1960.25" y1="827.5" x2="1960.25" y2="819.25" stroke="#555" stroke-width="1.6"/>
<line x1="1954.75" y1="819.25" x2="1965.75" y2="819.25" stroke="#555" stroke-width="1.8"/>
<path d="M1469.5 618.75 L1472.5 618.75 Q1475 618.75 1475 621.25 L1475 945" fill="none" stroke="#858585" stroke-width="1.8"/>
<line x1="1469.5" y1="945" x2="1991.25" y2="945" stroke="#7a7a7a" stroke-width="1.8"/>
<line x1="1470" y1="945" x2="1475" y2="945" stroke="#858585" stroke-width="1.5"/>
<text x="1418.96" y="953.4" font-family='"Liberation Sans", Arial, sans-serif' font-size="24.4" font-weight="normal" fill="#000" textLength="37.08" lengthAdjust="spacingAndGlyphs" stroke="#000" stroke-width="0.45">0.0</text>
<line x1="1470" y1="890.62" x2="1475" y2="890.62" stroke="#858585" stroke-width="1.5"/>
<text x="1418.96" y="899.02" font-family='"Liberation Sans", Arial, sans-serif' font-size="24.4" font-weight="normal" fill="#000" textLength="37.17" lengthAdjust="spacingAndGlyphs" stroke="#000" stroke-width="0.45">0.5</text>
<line x1="1470" y1="836.25" x2="1475" y2="836.25" stroke="#858585" stroke-width="1.5"/>
<text x="1417.91" y="844.65" font-family='"Liberation Sans", Arial, sans-serif' font-size="24.4" font-weight="normal" fill="#000" textLength="38.16" lengthAdjust="spacingAndGlyphs" stroke="#000" stroke-width="0.45">1.0</text>
<line x1="1470" y1="781.88" x2="1475" y2="781.88" stroke="#858585" stroke-width="1.5"/>
<text x="1417.9" y="790.15" font-family='"Liberation Sans", Arial, sans-serif' font-size="24.4" font-weight="normal" fill="#000" textLength="38.25" lengthAdjust="spacingAndGlyphs" stroke="#000" stroke-width="0.45">1.5</text>
<line x1="1470" y1="727.5" x2="1475" y2="727.5" stroke="#858585" stroke-width="1.5"/>
<text x="1418.65" y="735.9" font-family='"Liberation Sans", Arial, sans-serif' font-size="24.4" font-weight="normal" fill="#000" textLength="37.4" lengthAdjust="spacingAndGlyphs" stroke="#000" stroke-width="0.45">2.0</text>
<line x1="1470" y1="673.12" x2="1475" y2="673.12" stroke="#858585" stroke-width="1.5"/>
<text x="1418.64" y="681.52" font-family='"Liberation Sans", Arial, sans-serif' font-size="24.4" font-weight="normal" fill="#000" textLength="37.49" lengthAdjust="spacingAndGlyphs" stroke="#000" stroke-width="0.45">2.5</text>
<text x="1418.98" y="627.15" font-family='"Liberation Sans", Arial, sans-serif' font-size="24.4" font-weight="normal" fill="#000" textLength="37.06" lengthAdjust="spacingAndGlyphs" stroke="#000" stroke-width="0.45">3.0</text>
<rect x="1482.5" y="641" width="235" height="7" fill="#8e8e8e" stroke="#575757" stroke-width="1.8" rx="2.5"/>
<rect x="1737" y="641" width="235" height="7" fill="#ffffff" stroke="#808080" stroke-width="1.7" rx="2.5"/>
<text x="1578.89" y="631.41" font-family='"Liberation Sans", Arial, sans-serif' font-size="24.08" font-weight="normal" fill="#111" textLength="17.16" lengthAdjust="spacingAndGlyphs" stroke="#111" stroke-width="0.5">G</text>
<text x="1595.65" y="636.65" font-family='"Liberation Sans", Arial, sans-serif' font-size="16.33" font-weight="normal" fill="#333" textLength="22.53" lengthAdjust="spacingAndGlyphs" stroke="#333" stroke-width="0.4">5.5</text>
<text x="1836.89" y="631.41" font-family='"Liberation Sans", Arial, sans-serif' font-size="24.08" font-weight="normal" fill="#111" textLength="17.16" lengthAdjust="spacingAndGlyphs" stroke="#111" stroke-width="0.5">G</text>
<text x="1854.01" y="636.65" font-family='"Liberation Sans", Arial, sans-serif' font-size="16.33" font-weight="normal" fill="#333" textLength="10.47" lengthAdjust="spacingAndGlyphs" stroke="#333" stroke-width="0.4">0</text>
<line x1="1765" y1="737" x2="1952" y2="737" stroke="#8a8a8a" stroke-width="2"/>
<text x="1842.83" y="732.99" font-family='"DejaVu Sans", sans-serif' font-size="17.5" font-weight="bold" fill="#111" textLength="30.58" lengthAdjust="spacingAndGlyphs">∗∗</text>
<line x1="1765" y1="761.25" x2="1889.25" y2="761.25" stroke="#8a8a8a" stroke-width="2"/>
<text x="1815.38" y="758.49" font-family='"DejaVu Sans", sans-serif' font-size="17.5" font-weight="bold" fill="#111" textLength="30" lengthAdjust="spacingAndGlyphs">∗∗</text>
<line x1="1511.25" y1="778" x2="1572.5" y2="778" stroke="#8a8a8a" stroke-width="2"/>
<text x="1525.33" y="774.24" font-family='"DejaVu Sans", sans-serif' font-size="17.5" font-weight="bold" fill="#111" textLength="30.58" lengthAdjust="spacingAndGlyphs">∗∗</text>
<line x1="1572.5" y1="811" x2="1635" y2="811" stroke="#8a8a8a" stroke-width="2"/>
<text x="1587.86" y="808.99" font-family='"DejaVu Sans", sans-serif' font-size="17.5" font-weight="bold" fill="#111" textLength="30.29" lengthAdjust="spacingAndGlyphs">∗∗</text>
<line x1="1506.25" y1="884.5" x2="1770.5" y2="884.5" stroke="#4d4d4d" stroke-width="1.25"/>
<text x="1615.84" y="882.49" font-family='"DejaVu Sans", sans-serif' font-size="17.5" font-weight="bold" fill="#111" textLength="45.83" lengthAdjust="spacingAndGlyphs">∗∗∗</text>
<text x="1493.62" y="973.74" font-family='"Liberation Sans", Arial, sans-serif' font-size="19.6" font-weight="bold" fill="#111" textLength="12.76" lengthAdjust="spacingAndGlyphs" stroke="#111" stroke-width="0.35">V</text>
<text x="1545.92" y="973.74" font-family='"Liberation Sans", Arial, sans-serif' font-size="19.6" font-weight="bold" fill="#111" textLength="37.12" lengthAdjust="spacingAndGlyphs" stroke="#111" stroke-width="0.35">DEX</text>
<text x="1611.87" y="973.74" font-family='"Liberation Sans", Arial, sans-serif' font-size="19.6" font-weight="bold" fill="#111" textLength="26.52" lengthAdjust="spacingAndGlyphs" stroke="#111" stroke-width="0.35">NE</text>
<text x="1657.07" y="973.74" font-family='"Liberation Sans", Arial, sans-serif' font-size="19.6" font-weight="bold" fill="#111" textLength="74.11" lengthAdjust="spacingAndGlyphs" stroke="#111" stroke-width="0.35">DEX/NE</text>
<text x="1754.12" y="973.74" font-family='"Liberation Sans", Arial, sans-serif' font-size="19.6" font-weight="bold" fill="#111" textLength="12.76" lengthAdjust="spacingAndGlyphs" stroke="#111" stroke-width="0.35">V</text>
<text x="1801.82" y="973.74" font-family='"Liberation Sans", Arial, sans-serif' font-size="19.6" font-weight="bold" fill="#111" textLength="37.12" lengthAdjust="spacingAndGlyphs" stroke="#111" stroke-width="0.35">DEX</text>
<text x="1873.37" y="973.74" font-family='"Liberation Sans", Arial, sans-serif' font-size="19.6" font-weight="bold" fill="#111" textLength="26.52" lengthAdjust="spacingAndGlyphs" stroke="#111" stroke-width="0.35">NE</text>
<text x="1917.67" y="973.74" font-family='"Liberation Sans", Arial, sans-serif' font-size="19.6" font-weight="bold" fill="#111" textLength="74.11" lengthAdjust="spacingAndGlyphs" stroke="#111" stroke-width="0.35">DEX/NE</text>
<text x="1349.38" y="556.39" font-family='"Liberation Sans", Arial, sans-serif' font-size="29.51" font-weight="bold" fill="#000" textLength="37.49" lengthAdjust="spacingAndGlyphs">(f)</text>
<text transform="translate(1395,951.25) rotate(-90)" x="-2.07" y="0" font-family='"Liberation Sans", Arial, sans-serif' font-size="30" font-weight="normal" fill="#000" stroke="#000" stroke-width="0.45" textLength="335.62" lengthAdjust="spacingAndGlyphs">Mean Normalized β1-AR O.D.</text>
<rect x="1487" y="982" width="497.5" height="78.7" fill="#f7f7f7" stroke="none" stroke-width="0"/>
<rect x="1503" y="983.5" width="37" height="75.7" fill="#ebebeb" filter="url(#blur1)"/>
<rect x="1560" y="983.5" width="37.5" height="75.7" fill="#ebebeb" filter="url(#blur1)"/>
<rect x="1621.25" y="983.5" width="40" height="75.7" fill="#ebebeb" filter="url(#blur1)"/>
<rect x="1685" y="983.5" width="41.25" height="75.7" fill="#ebebeb" filter="url(#blur1)"/>
<rect x="1749.5" y="983.5" width="40.5" height="75.7" fill="#ebebeb" filter="url(#blur1)"/>
<rect x="1812.5" y="983.5" width="40" height="75.7" fill="#ebebeb" filter="url(#blur1)"/>
<rect x="1877.5" y="983.5" width="36.25" height="75.7" fill="#ebebeb" filter="url(#blur1)"/>
<rect x="1936.25" y="983.5" width="40" height="75.7" fill="#ebebeb" filter="url(#blur1)"/>
<rect x="1503.4" y="1033" width="36.2" height="15" rx="6" fill="#222" filter="url(#blur2)"/>
<rect x="1561.3" y="1030" width="35.7" height="22" rx="8.8" fill="#000" filter="url(#blur2)"/>
<rect x="1621.8" y="1033" width="38.7" height="11" rx="4.4" fill="#444" filter="url(#blur2)"/>
<rect x="1685.3" y="1030" width="41.3" height="15" rx="6" fill="#111" filter="url(#blur2)"/>
<rect x="1748.9" y="1029" width="40.3" height="21" rx="8.4" fill="#000" filter="url(#blur2)"/>
<rect x="1812.4" y="1028" width="40.3" height="20" rx="8" fill="#000" filter="url(#blur2)"/>
<rect x="1877.5" y="1031" width="35.7" height="14" rx="5.6" fill="#333" filter="url(#blur2)"/>
<rect x="1940" y="1036" width="18" height="12" rx="4.8" fill="#888" filter="url(#blur2)"/>
<rect x="1956" y="1034" width="19.2" height="16" rx="6.4" fill="#111" filter="url(#blur2)"/>
<text x="1422.4" y="1000.19" font-family='"Liberation Sans", Arial, sans-serif' font-size="18" font-weight="bold" fill="#111" textLength="25.85" lengthAdjust="spacingAndGlyphs">75</text>
<line x1="1452" y1="993.5" x2="1489" y2="993.5" stroke="#111" stroke-width="3.2"/>
<text x="1425.2" y="1051.39" font-family='"Liberation Sans", Arial, sans-serif' font-size="18" font-weight="bold" fill="#111" textLength="25.44" lengthAdjust="spacingAndGlyphs">50</text>
<line x1="1452" y1="1045.2" x2="1489" y2="1045.2" stroke="#111" stroke-width="3.2"/>
</svg></body></html>
